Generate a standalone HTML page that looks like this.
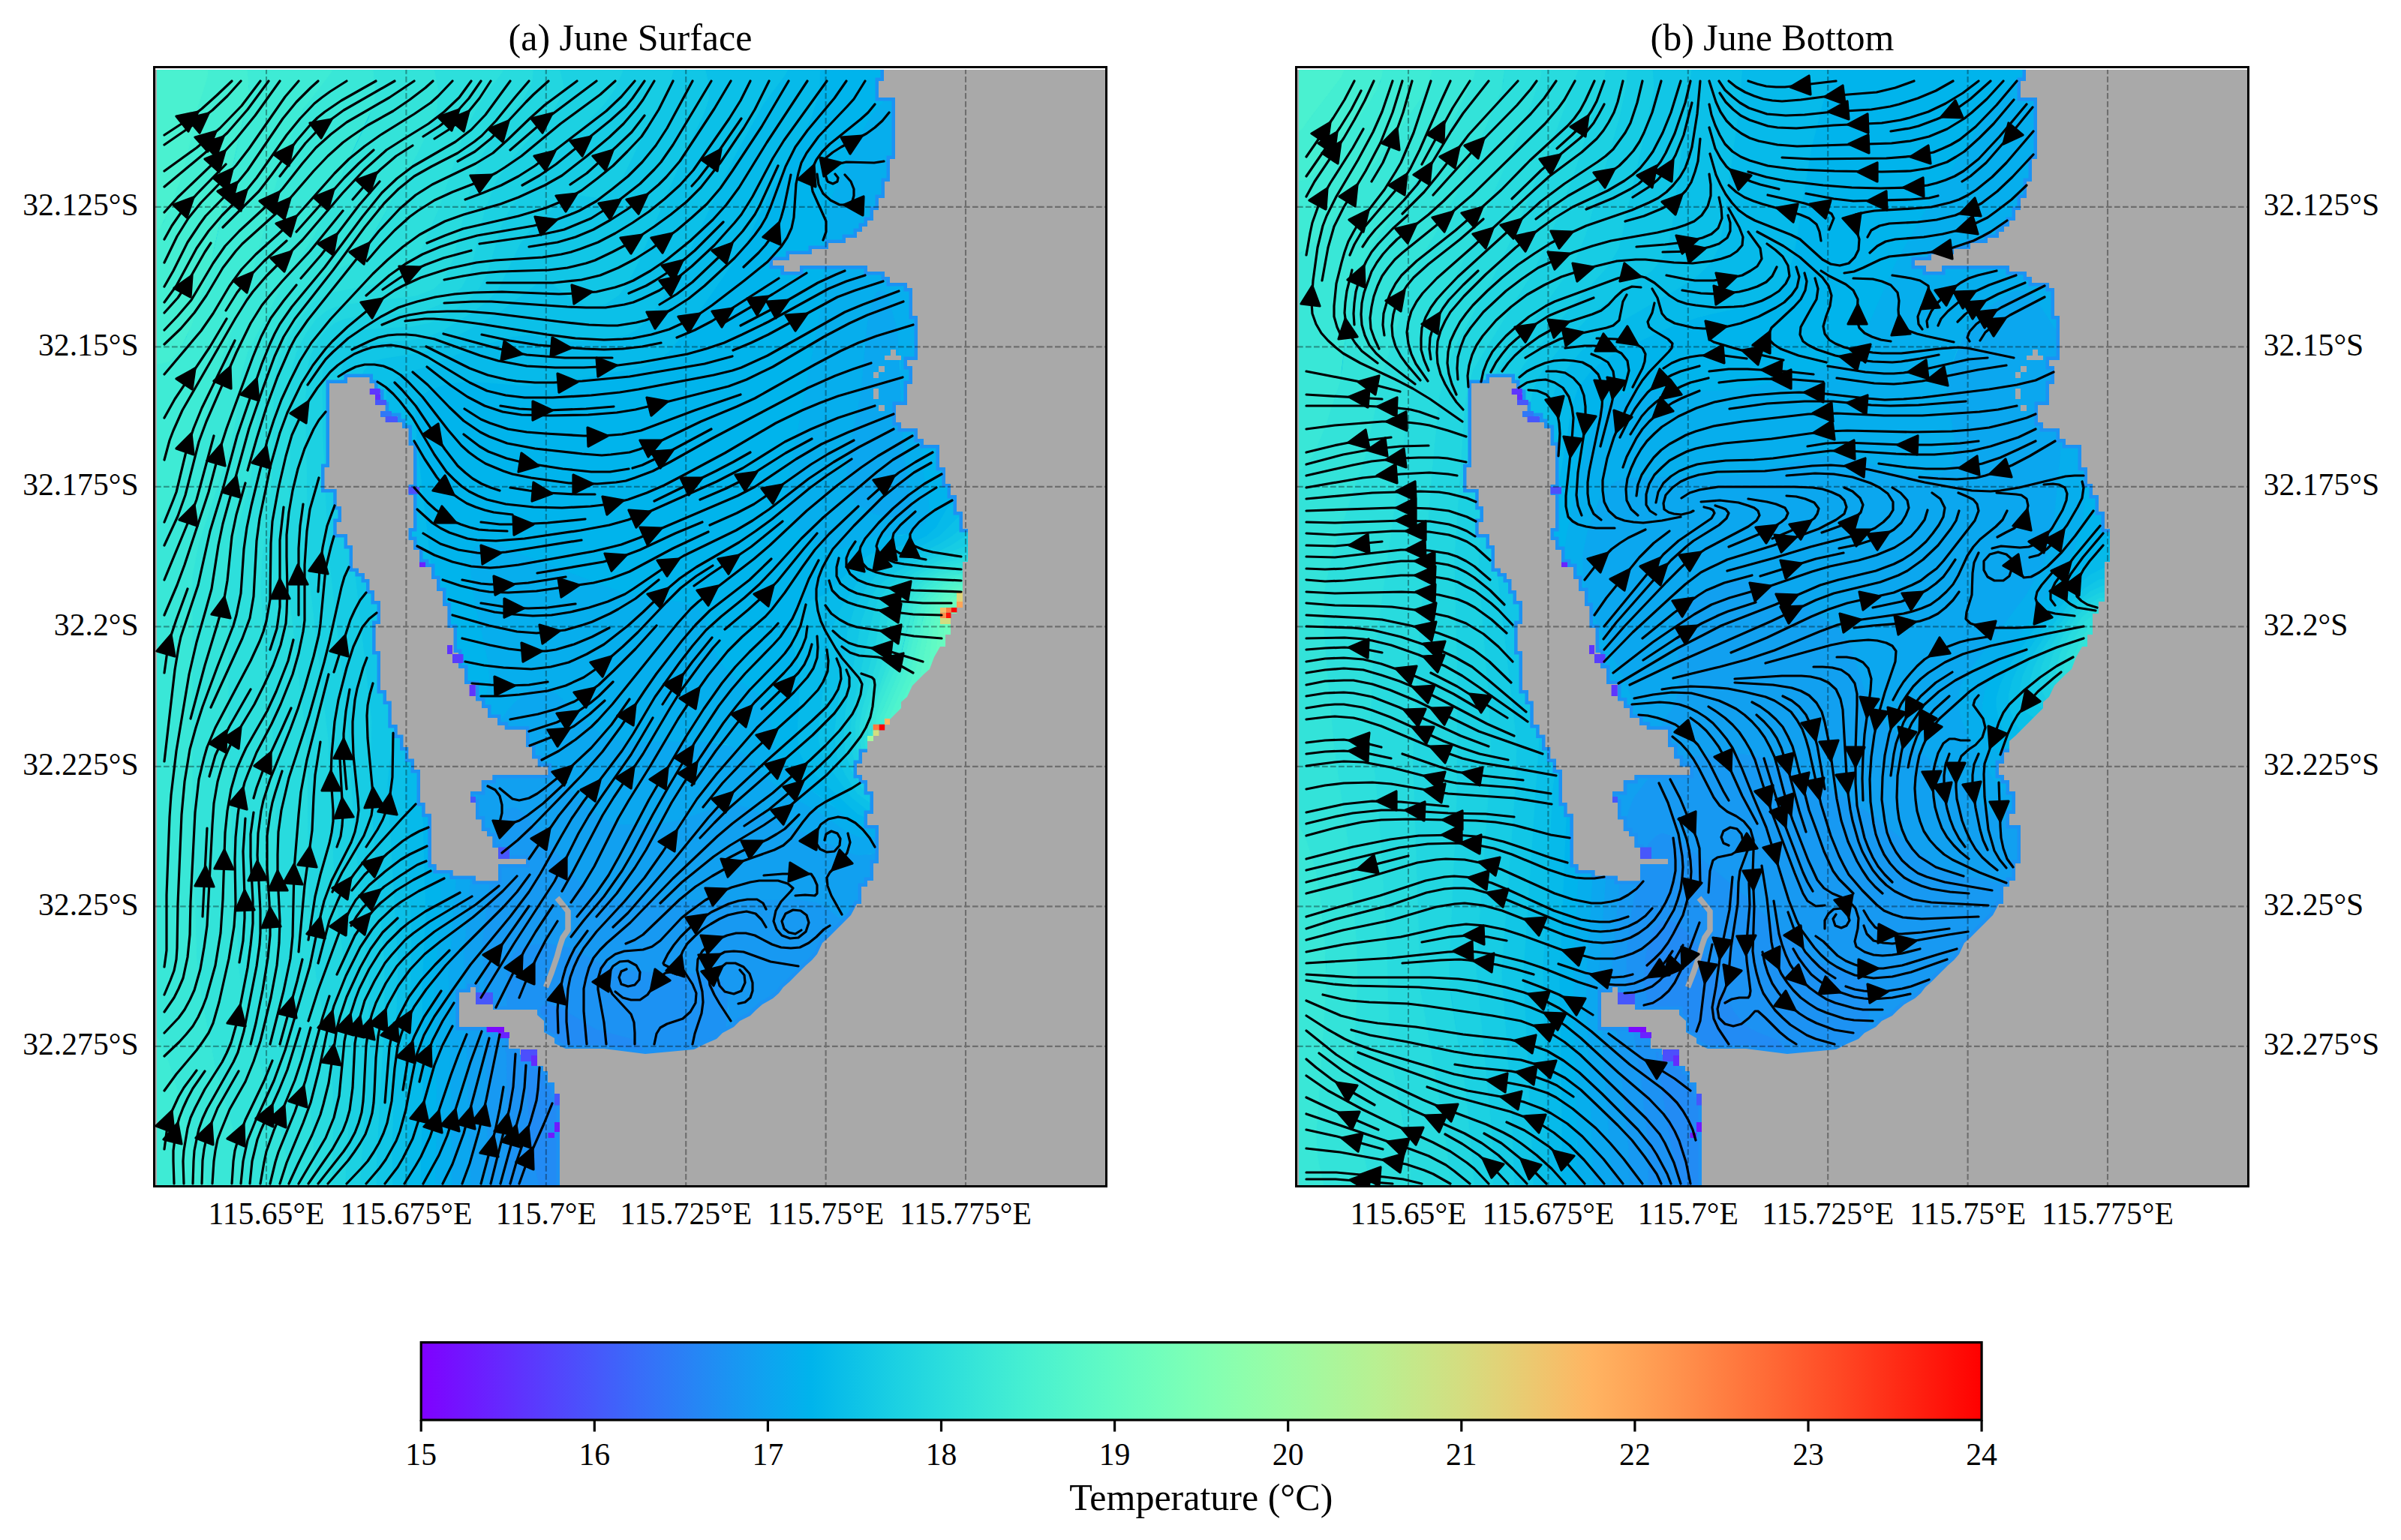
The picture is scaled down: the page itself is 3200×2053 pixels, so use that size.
<!DOCTYPE html><html><head><meta charset="utf-8"><style>html,body{margin:0;padding:0;background:#fff;}svg{display:block}</style></head><body>
<svg width="3200" height="2053" viewBox="0 0 3200 2053">
<defs>
<clipPath id="c0"><rect x="207" y="91" width="1266" height="1489"/></clipPath>
<clipPath id="c1"><rect x="1729" y="91" width="1266" height="1489"/></clipPath>
<linearGradient id="cb" x1="0" x2="1" y1="0" y2="0"><stop offset="0" stop-color="#8000ff"/><stop offset="0.0277778" stop-color="#7116ff"/><stop offset="0.0555556" stop-color="#632cfe"/><stop offset="0.0833333" stop-color="#5542fd"/><stop offset="0.111111" stop-color="#4757fb"/><stop offset="0.138889" stop-color="#396cf9"/><stop offset="0.166667" stop-color="#2b7ff6"/><stop offset="0.194444" stop-color="#1c92f3"/><stop offset="0.222222" stop-color="#0ea4f0"/><stop offset="0.25" stop-color="#00b4ec"/><stop offset="0.277778" stop-color="#0ec3e7"/><stop offset="0.305556" stop-color="#1cd1e2"/><stop offset="0.333333" stop-color="#2adddd"/><stop offset="0.361111" stop-color="#39e7d7"/><stop offset="0.388889" stop-color="#47f0d1"/><stop offset="0.416667" stop-color="#55f6ca"/><stop offset="0.444444" stop-color="#63fbc3"/><stop offset="0.472222" stop-color="#71febc"/><stop offset="0.5" stop-color="#80ffb4"/><stop offset="0.527778" stop-color="#8efeac"/><stop offset="0.555556" stop-color="#9cfba4"/><stop offset="0.583333" stop-color="#aaf69b"/><stop offset="0.611111" stop-color="#b8f092"/><stop offset="0.638889" stop-color="#c6e789"/><stop offset="0.666667" stop-color="#d4dd80"/><stop offset="0.694444" stop-color="#e3d176"/><stop offset="0.722222" stop-color="#f1c36c"/><stop offset="0.75" stop-color="#ffb462"/><stop offset="0.777778" stop-color="#ffa457"/><stop offset="0.805556" stop-color="#ff924d"/><stop offset="0.833333" stop-color="#ff7f42"/><stop offset="0.861111" stop-color="#ff6c37"/><stop offset="0.888889" stop-color="#ff572c"/><stop offset="0.916667" stop-color="#ff4221"/><stop offset="0.944444" stop-color="#ff2c16"/><stop offset="0.972222" stop-color="#ff160b"/><stop offset="1" stop-color="#ff0000"/></linearGradient>
</defs>
<rect width="3200" height="2053" fill="#fff"/>
<g clip-path="url(#c0)">
<rect x="207" y="91" width="1266" height="1489" fill="#14c9e5"/>
<path d="M819 1488L838 1489L867 1499L941 1537L987 1564L997 1573L1004 1585L951 1585L796 1585L792 1573L769 1543L766 1525L772 1513L783 1504L801 1493L819 1488Z" fill="#2883f6" stroke="#2883f6" stroke-width="1" fill-rule="evenodd"/>
<path d="M729 1338L747 1343L795 1372L843 1385L854 1393L860 1405L867 1429L875 1441L1011 1546L1027 1561L1035 1573L1038 1585L1004 1585L997 1573L987 1564L933 1533L849 1492L831 1488L813 1489L798 1495L778 1507L771 1514L766 1525L769 1543L792 1573L796 1585L719 1585L705 1519L702 1477L703 1429L705 1393L711 1361L717 1346L723 1340L729 1338Z" fill="#228bf4" stroke="#228bf4" stroke-width="1" fill-rule="evenodd"/>
<path d="M705 1260L729 1257L747 1259L765 1265L801 1284L819 1290L861 1295L939 1298L955 1303L963 1309L969 1321L970 1333L967 1387L971 1405L1017 1489L1061 1555L1068 1573L1070 1585L1038 1585L1031 1567L1017 1551L897 1457L870 1435L858 1399L849 1388L837 1383L795 1372L741 1340L729 1338L723 1340L715 1351L708 1375L702 1453L706 1525L719 1585L674 1585L676 1537L674 1405L676 1297L678 1285L683 1273L693 1264L705 1260Z" fill="#1c92f3" stroke="#1c92f3" stroke-width="1" fill-rule="evenodd"/>
<path d="M675 1078L687 1076L699 1084L718 1105L771 1174L789 1188L807 1195L825 1198L855 1200L1071 1199L1089 1203L1101 1209L1131 1234L1443 1546L1467 1567L1479 1572L1479 1585L1101 1585L1070 1585L1068 1573L1061 1555L1017 1489L974 1411L967 1387L971 1345L970 1327L963 1309L955 1303L939 1298L867 1296L825 1291L801 1284L759 1263L729 1257L711 1259L693 1264L683 1273L678 1285L675 1303L674 1363L676 1537L674 1585L650 1585L647 1333L642 1261L661 1105L667 1087L675 1078Z" fill="#1799f2" stroke="#1799f2" stroke-width="1" fill-rule="evenodd"/>
<path d="M1473 397L1479 397L1479 421L1383 421L1395 421L1401 415L1419 415L1425 409L1443 409L1449 403L1467 403L1473 397ZM1353 427L1365 427L1359 427L1353 433L1347 433L1353 427ZM681 1002L693 998L711 1003L732 1021L789 1080L807 1092L825 1098L855 1099L891 1096L915 1090L957 1075L981 1072L999 1077L1125 1134L1143 1140L1161 1139L1209 1121L1257 1119L1295 1123L1437 1151L1479 1156L1479 1572L1467 1567L1443 1546L1209 1312L1119 1223L1101 1209L1089 1203L1065 1199L843 1200L819 1197L795 1191L781 1183L768 1171L718 1105L699 1084L687 1076L675 1078L667 1087L661 1105L642 1261L647 1333L650 1585L627 1585L618 1273L628 1159L630 1087L635 1063L645 1041L663 1017L681 1002Z" fill="#11a0f0" stroke="#11a0f0" stroke-width="1" fill-rule="evenodd"/>
<path d="M1461 270L1479 268L1479 397L1473 397L1467 403L1449 403L1443 409L1425 409L1419 415L1401 415L1395 421L1377 421L1479 421L1479 498L1461 501L1443 507L1401 532L1369 559L1329 604L1311 621L1299 627L1292 625L1284 613L1255 499L1224 391L1221 373L1224 355L1230 343L1239 333L1263 319L1461 270ZM1353 427L1347 433L1353 433L1359 427L1353 427ZM1173 386L1179 388L1185 398L1191 416L1197 446L1204 601L1216 673L1212 685L1203 691L1179 689L1155 682L1142 673L1131 655L1127 631L1130 607L1146 529L1156 427L1164 397L1167 391L1173 386ZM705 918L717 915L735 920L753 934L795 973L819 986L843 989L939 988L975 995L993 1006L1024 1039L1041 1053L1095 1085L1125 1106L1143 1115L1161 1116L1209 1104L1257 1104L1437 1138L1479 1144L1479 1156L1467 1156L1295 1123L1239 1119L1203 1122L1167 1137L1143 1140L1125 1134L999 1077L981 1072L957 1075L909 1092L885 1097L831 1099L813 1095L801 1089L777 1069L723 1012L711 1003L699 998L687 999L675 1006L657 1024L643 1045L635 1063L631 1081L627 1165L618 1267L627 1585L602 1585L597 1309L607 1177L606 1087L608 1063L619 1033L645 990L681 941L705 918Z" fill="#0ba7ef" stroke="#0ba7ef" stroke-width="1" fill-rule="evenodd"/>
<path d="M1239 89L1248 85L1479 85L1479 268L1437 275L1263 319L1245 328L1235 337L1227 349L1222 361L1221 373L1224 391L1255 499L1280 601L1287 619L1293 625L1305 625L1323 610L1375 553L1413 524L1437 510L1461 501L1479 498L1479 511L1461 513L1443 520L1419 534L1395 552L1371 574L1317 635L1305 645L1293 650L1281 647L1272 637L1251 581L1245 569L1238 565L1233 571L1232 577L1229 607L1231 631L1238 667L1239 685L1234 697L1229 703L1215 711L1161 717L1119 733L1107 734L1089 727L1073 715L1059 700L1050 685L1047 667L1048 649L1093 415L1101 295L1107 265L1143 184L1161 154L1179 133L1197 117L1239 89ZM1167 391L1161 406L1155 433L1147 523L1130 607L1128 637L1131 655L1142 673L1161 684L1185 691L1197 691L1209 688L1215 680L1216 673L1204 601L1200 481L1196 439L1185 398L1179 388L1173 386L1167 391ZM639 724L651 723L669 728L831 790L861 797L909 802L927 807L940 823L952 865L960 883L975 899L1010 925L1020 937L1026 955L1034 997L1045 1021L1065 1042L1143 1099L1161 1102L1209 1093L1251 1094L1437 1131L1479 1137L1479 1144L1461 1142L1281 1107L1251 1103L1209 1104L1161 1116L1143 1115L1125 1106L1095 1085L1041 1053L1024 1039L993 1006L981 998L969 992L951 989L891 988L837 989L813 984L795 973L741 924L723 915L711 916L693 928L675 948L645 990L619 1033L611 1051L607 1075L607 1177L598 1297L602 1585L579 1585L582 1495L579 1315L587 1189L584 1069L586 1051L592 1033L639 949L651 913L650 883L633 805L627 763L628 739L633 728L639 724Z" fill="#06aeed" stroke="#06aeed" stroke-width="1" fill-rule="evenodd"/>
<path d="M1095 85L1248 85L1221 100L1197 117L1179 133L1161 154L1143 184L1114 247L1105 271L1100 301L1097 379L1093 415L1047 655L1049 679L1053 691L1062 703L1089 727L1107 734L1119 733L1161 717L1203 714L1219 709L1233 698L1239 685L1238 667L1231 631L1229 607L1233 571L1239 564L1245 569L1251 581L1272 637L1281 647L1293 650L1305 645L1317 635L1377 568L1413 538L1443 520L1461 513L1479 511L1479 520L1461 523L1443 531L1401 559L1377 581L1311 654L1293 666L1269 672L1263 677L1248 703L1235 715L1215 724L1173 734L1155 742L1143 751L1101 792L1070 805L1061 811L1055 823L1054 835L1056 853L1067 901L1063 979L1066 1003L1076 1021L1087 1033L1137 1080L1155 1090L1173 1091L1215 1084L1251 1087L1341 1108L1443 1127L1479 1131L1479 1137L1437 1131L1251 1094L1215 1093L1167 1102L1149 1101L1133 1093L1107 1071L1059 1037L1045 1021L1036 1003L1026 955L1020 937L1010 925L975 899L960 883L952 865L940 823L927 807L909 802L861 797L831 790L657 724L645 723L633 728L627 745L627 769L633 805L650 883L652 907L648 925L641 943L597 1021L589 1039L585 1057L584 1081L587 1201L579 1321L582 1495L579 1585L560 1585L563 1459L562 1315L567 1219L562 1057L564 1039L570 1021L606 949L611 919L608 895L585 805L574 751L559 625L553 553L555 538L561 528L577 517L597 511L627 508L699 514L729 513L849 491L867 485L885 475L911 445L982 343L997 319L1022 265L1065 190L1081 157L1091 127L1093 85L1095 85ZM1275 85L1279 85L1275 85L1275 85Z" fill="#00b4ec" stroke="#00b4ec" stroke-width="1" fill-rule="evenodd"/>
<path d="M1053 85L1093 85L1092 121L1081 157L1065 190L1022 265L990 331L911 445L891 469L873 482L855 489L729 513L699 514L627 508L597 511L567 522L560 529L555 538L553 553L554 577L573 745L583 799L608 895L611 919L606 949L570 1021L564 1039L562 1057L567 1219L562 1315L563 1459L560 1567L560 1585L542 1585L548 1249L539 1057L544 1021L566 967L571 937L568 913L550 835L543 791L514 553L513 529L516 517L524 505L535 499L579 485L627 465L687 448L705 446L753 454L795 454L831 448L855 434L876 409L909 355L981 204L1017 139L1047 99L1053 85ZM1467 522L1479 520L1479 529L1467 531L1449 538L1407 565L1383 588L1317 662L1276 691L1252 715L1227 729L1170 751L1148 769L1121 811L1108 841L1091 973L1093 997L1104 1021L1135 1063L1155 1079L1173 1082L1215 1077L1245 1080L1335 1102L1449 1124L1479 1127L1479 1131L1455 1129L1341 1108L1251 1087L1215 1084L1167 1091L1155 1090L1143 1085L1081 1027L1072 1015L1066 1003L1063 979L1067 901L1056 853L1054 835L1057 817L1065 808L1101 792L1143 751L1160 739L1215 724L1235 715L1248 703L1263 677L1269 672L1293 666L1311 654L1377 581L1401 559L1437 534L1467 522Z" fill="#06baea" stroke="#06baea" stroke-width="1" fill-rule="evenodd"/>
<path d="M939 85L1053 85L1047 99L1017 139L981 204L909 355L880 403L861 428L849 439L837 446L801 454L759 455L705 446L681 449L627 465L579 485L535 499L519 511L514 523L515 559L543 793L552 847L569 919L571 937L566 967L544 1021L539 1051L548 1249L542 1537L542 1585L523 1585L522 1555L530 1285L516 1045L519 1015L531 967L531 949L516 853L485 589L479 529L482 499L490 487L501 480L561 470L591 458L663 418L717 377L729 376L735 378L765 401L783 408L801 407L821 397L835 379L849 354L904 223L941 145L945 121L939 85ZM1455 535L1479 529L1479 539L1466 541L1449 548L1407 577L1311 681L1260 721L1179 760L1167 769L1156 781L1139 811L1130 841L1114 955L1113 985L1116 1009L1127 1033L1143 1058L1161 1071L1173 1073L1209 1069L1227 1070L1335 1099L1443 1119L1479 1123L1479 1127L1473 1127L1431 1121L1335 1102L1263 1083L1233 1078L1209 1077L1173 1082L1155 1079L1135 1063L1104 1021L1095 1003L1091 985L1092 961L1108 841L1121 811L1148 769L1170 751L1227 729L1252 715L1276 691L1317 662L1400 571L1431 548L1455 535Z" fill="#0bc0e8" stroke="#0bc0e8" stroke-width="1" fill-rule="evenodd"/>
<path d="M903 85L938 85L945 115L944 133L938 151L903 225L851 349L837 376L825 393L807 405L795 408L783 408L765 401L735 378L729 376L717 377L663 418L585 461L561 470L513 477L499 481L485 493L480 505L480 535L487 607L516 853L531 949L531 967L519 1015L516 1045L530 1285L522 1537L523 1585L501 1585L511 1363L512 1291L493 1057L495 961L463 685L456 601L452 517L455 487L465 470L477 462L495 457L549 453L567 450L585 443L615 425L645 405L660 391L671 373L687 336L697 319L711 301L735 278L753 266L765 261L777 261L801 264L813 258L825 244L837 222L865 163L892 115L898 85L903 85ZM1467 541L1479 539L1479 552L1454 559L1419 583L1395 606L1335 675L1311 698L1279 721L1194 763L1177 775L1167 786L1156 805L1147 835L1127 949L1125 979L1128 1009L1137 1033L1149 1051L1166 1063L1179 1065L1203 1062L1221 1063L1335 1095L1443 1116L1479 1120L1479 1123L1455 1121L1347 1101L1227 1070L1209 1069L1173 1073L1161 1071L1143 1058L1127 1033L1116 1009L1112 979L1130 841L1139 811L1156 781L1167 769L1179 760L1250 727L1269 715L1323 670L1407 577L1440 553L1467 541Z" fill="#11c6e6" stroke="#11c6e6" stroke-width="1" fill-rule="evenodd"/>
<path d="M831 86L898 85L898 91L891 118L868 157L831 234L819 252L807 262L801 264L771 260L759 263L729 284L706 307L693 325L664 385L651 400L631 415L591 440L567 450L549 453L495 457L477 462L461 475L454 493L452 535L459 642L495 961L493 1057L512 1285L512 1357L502 1537L501 1585L479 1585L490 1411L491 1315L471 1099L464 973L436 727L429 553L429 511L431 487L441 463L452 451L461 445L483 439L549 435L573 430L603 415L633 391L648 367L666 307L681 276L723 225L805 139L824 109L831 86ZM1473 552L1479 552L1479 667L1461 669L1413 682L1251 742L1208 763L1191 775L1179 787L1169 805L1163 823L1136 949L1133 979L1136 1003L1143 1027L1155 1045L1167 1054L1179 1056L1203 1055L1221 1057L1329 1091L1443 1112L1479 1117L1479 1120L1473 1120L1335 1095L1221 1063L1173 1064L1161 1061L1149 1051L1135 1027L1127 1003L1125 979L1127 949L1148 829L1159 799L1171 781L1194 763L1268 727L1305 703L1335 675L1413 588L1444 565L1473 552Z" fill="#17cce4" stroke="#17cce4" stroke-width="1" fill-rule="evenodd"/>
<path d="M747 85L831 85L829 97L818 121L805 139L723 225L681 276L668 301L648 367L638 385L627 397L609 411L573 430L549 435L483 439L459 446L441 463L435 475L430 493L429 517L430 583L437 733L464 973L471 1099L491 1309L491 1387L483 1525L479 1585L460 1585L467 1453L468 1375L445 1171L437 985L410 757L407 529L409 493L413 475L423 454L435 439L447 430L459 425L477 421L543 417L567 414L592 403L613 385L627 361L645 283L661 241L678 217L730 157L747 133L751 115L744 85L747 85ZM1449 672L1479 667L1479 738L1335 734L1299 735L1269 742L1239 753L1215 766L1196 781L1182 799L1175 817L1167 859L1144 943L1140 979L1143 1003L1148 1021L1161 1039L1170 1045L1215 1050L1329 1088L1455 1111L1479 1113L1479 1117L1449 1113L1329 1091L1221 1057L1203 1055L1179 1056L1167 1054L1155 1045L1143 1027L1136 1003L1133 979L1136 949L1163 823L1171 799L1185 781L1208 763L1245 744L1413 682L1449 672Z" fill="#1cd1e2" stroke="#1cd1e2" stroke-width="1" fill-rule="evenodd"/>
<path d="M717 85L744 85L751 115L749 127L735 151L681 213L661 241L645 283L627 361L615 383L592 403L567 414L543 417L477 421L459 425L447 430L435 439L423 454L413 475L409 493L407 529L410 757L437 985L445 1171L468 1375L467 1453L460 1573L460 1585L442 1585L444 1477L442 1429L437 1387L421 1303L416 1261L411 1183L409 997L383 775L382 739L386 643L386 523L388 493L395 469L407 445L420 427L435 414L447 409L465 405L555 394L578 385L591 373L603 347L626 253L639 212L657 181L700 127L709 109L711 85L717 85ZM1281 739L1323 734L1479 738L1479 746L1311 742L1269 748L1245 756L1221 769L1200 787L1189 805L1176 859L1148 955L1146 985L1153 1015L1161 1028L1173 1037L1215 1044L1315 1081L1437 1105L1479 1110L1479 1113L1455 1111L1341 1091L1299 1079L1221 1051L1173 1046L1161 1039L1151 1027L1144 1009L1141 991L1140 967L1144 943L1167 859L1175 817L1182 799L1196 781L1220 763L1251 748L1281 739Z" fill="#22d6e0" stroke="#22d6e0" stroke-width="1" fill-rule="evenodd"/>
<path d="M675 85L711 85L709 109L699 129L657 181L639 212L626 253L603 347L591 373L578 385L555 394L465 405L447 409L435 414L420 427L407 445L395 469L388 493L386 523L386 643L382 769L409 997L411 1183L416 1261L421 1303L437 1387L442 1429L444 1477L442 1585L421 1585L417 1507L412 1465L378 1327L371 1273L366 1009L352 865L347 781L349 745L362 643L366 499L372 475L383 451L402 421L417 403L441 390L519 372L539 361L551 349L562 331L579 293L622 169L642 133L669 97L675 85ZM1287 744L1323 742L1479 746L1479 752L1311 748L1269 753L1245 761L1227 771L1209 787L1197 805L1184 859L1153 955L1152 985L1157 1009L1165 1021L1173 1028L1215 1039L1317 1079L1437 1102L1479 1108L1479 1110L1455 1108L1335 1086L1299 1076L1215 1044L1173 1037L1161 1028L1155 1019L1149 1003L1146 985L1146 967L1150 943L1176 859L1185 817L1192 799L1206 781L1230 763L1257 751L1287 744Z" fill="#28dbde" stroke="#28dbde" stroke-width="1" fill-rule="evenodd"/>
<path d="M579 85L674 85L669 97L645 128L621 170L585 277L562 331L546 355L530 367L501 378L441 390L417 403L399 425L380 457L370 481L365 505L362 643L349 745L347 781L352 865L366 1009L370 1267L378 1327L411 1460L416 1501L419 1549L421 1585L387 1585L380 1531L337 1393L320 1309L316 1261L308 1075L303 889L304 763L308 739L334 637L340 589L344 505L354 469L383 415L405 385L423 372L470 349L483 337L495 319L555 207L578 157L585 127L577 85L579 85ZM1281 750L1317 748L1479 752L1479 757L1311 753L1275 756L1251 763L1233 773L1217 787L1205 805L1190 865L1159 949L1156 979L1161 1003L1169 1015L1179 1023L1215 1034L1317 1076L1437 1099L1479 1105L1479 1108L1455 1105L1323 1081L1289 1069L1215 1039L1179 1031L1167 1024L1160 1015L1155 1002L1152 985L1153 955L1184 859L1197 805L1209 787L1230 769L1251 758L1281 750Z" fill="#2ddfdc" stroke="#2ddfdc" stroke-width="1" fill-rule="evenodd"/>
<path d="M501 85L577 85L584 121L582 145L573 169L555 207L487 331L470 349L423 372L405 385L383 415L354 469L344 505L340 589L334 637L308 739L304 769L304 943L309 1117L318 1291L324 1333L336 1387L375 1512L383 1549L387 1585L325 1585L322 1543L291 1442L266 1315L260 1261L256 1129L256 769L264 727L307 595L314 559L321 499L328 475L341 445L373 385L419 313L492 157L500 127L496 85L501 85ZM1275 756L1311 753L1479 757L1479 761L1311 758L1275 760L1257 766L1239 775L1224 787L1212 805L1197 865L1165 949L1161 973L1166 997L1173 1009L1185 1018L1311 1071L1347 1081L1449 1099L1479 1102L1479 1105L1449 1102L1323 1078L1287 1065L1215 1034L1179 1023L1164 1009L1157 985L1158 955L1190 865L1205 805L1217 787L1233 773L1251 763L1275 756Z" fill="#33e3d9" stroke="#33e3d9" stroke-width="1" fill-rule="evenodd"/>
<path d="M447 85L496 85L500 121L498 139L419 313L375 382L330 469L321 499L314 559L307 595L264 727L256 769L256 1099L262 1279L268 1327L288 1429L323 1549L325 1585L315 1585L277 1585L273 1570L254 1525L236 1453L225 1417L213 1389L201 1373L201 704L213 693L225 674L243 635L267 573L296 475L336 367L369 240L390 175L408 139L436 103L445 85L447 85ZM1269 762L1305 758L1479 761L1479 764L1311 761L1281 763L1263 768L1247 775L1231 787L1222 799L1214 817L1199 877L1170 949L1167 967L1168 985L1173 998L1185 1010L1299 1064L1347 1078L1449 1095L1479 1099L1479 1102L1452 1099L1323 1075L1289 1063L1215 1029L1185 1018L1173 1009L1168 1003L1162 979L1163 955L1168 937L1197 865L1212 805L1219 793L1233 779L1251 768L1269 762Z" fill="#39e7d7" stroke="#39e7d7" stroke-width="1" fill-rule="evenodd"/>
<path d="M333 85L445 85L441 97L404 145L387 183L369 240L334 373L296 475L267 573L242 637L219 685L207 700L201 704L201 486L213 485L225 482L237 471L249 449L262 415L286 331L328 145L332 115L328 85L333 85ZM1287 763L1479 764L1479 767L1317 765L1281 767L1263 772L1246 781L1232 793L1224 805L1218 823L1206 877L1175 949L1172 967L1174 985L1181 997L1196 1009L1264 1045L1322 1069L1449 1092L1479 1095L1479 1099L1449 1095L1347 1078L1317 1070L1275 1054L1191 1013L1179 1005L1172 997L1167 979L1168 955L1174 937L1202 871L1218 805L1231 787L1245 776L1263 768L1287 763ZM204 1375L213 1389L225 1417L236 1453L254 1525L274 1573L277 1585L267 1585L201 1585L201 1373L204 1375Z" fill="#3eebd5" stroke="#3eebd5" stroke-width="1" fill-rule="evenodd"/>
<path d="M279 85L328 85L331 109L331 127L278 361L255 434L237 471L225 482L213 485L201 486L201 313L213 304L219 295L237 251L279 85ZM1275 768L1311 765L1479 767L1479 770L1317 768L1287 770L1269 774L1254 781L1239 793L1230 805L1224 823L1210 883L1181 949L1178 967L1179 979L1190 997L1216 1015L1259 1039L1311 1062L1347 1072L1479 1092L1479 1095L1454 1093L1347 1075L1322 1069L1290 1057L1240 1033L1191 1006L1179 995L1173 979L1173 955L1206 877L1222 811L1228 799L1239 786L1256 775L1275 768Z" fill="#44eed2" stroke="#44eed2" stroke-width="1" fill-rule="evenodd"/>
<path d="M207 85L278 85L276 103L263 145L244 229L227 277L213 304L201 313L201 85L207 85ZM1299 769L1479 770L1479 773L1323 771L1287 773L1269 778L1257 784L1245 793L1236 805L1230 823L1215 889L1186 955L1185 967L1187 979L1200 997L1233 1021L1291 1051L1329 1065L1455 1086L1479 1088L1479 1092L1449 1089L1347 1072L1313 1063L1271 1045L1226 1021L1191 998L1182 985L1178 973L1179 955L1210 883L1224 823L1230 805L1239 793L1257 779L1275 772L1299 769Z" fill="#4af1d0" stroke="#4af1d0" stroke-width="1" fill-rule="evenodd"/>
<path d="M1281 774L1317 771L1479 773L1479 776L1293 776L1275 780L1263 785L1252 793L1242 805L1235 823L1220 895L1195 955L1194 973L1204 991L1231 1015L1274 1039L1317 1058L1347 1065L1479 1084L1479 1088L1461 1087L1347 1069L1322 1063L1279 1045L1233 1021L1207 1003L1190 985L1186 973L1186 955L1215 889L1234 811L1240 799L1252 787L1263 780L1281 774Z" fill="#4ff4cd" stroke="#4ff4cd" stroke-width="1" fill-rule="evenodd"/>
<path d="M1305 775L1479 776L1479 779L1329 778L1293 779L1275 784L1263 790L1253 799L1245 811L1240 829L1225 907L1205 955L1204 967L1206 979L1213 991L1223 1003L1248 1021L1309 1051L1341 1060L1479 1079L1479 1084L1455 1082L1341 1064L1311 1056L1262 1033L1223 1009L1200 985L1194 967L1196 949L1220 895L1235 823L1242 805L1252 793L1269 782L1287 777L1305 775Z" fill="#55f6ca" stroke="#55f6ca" stroke-width="1" fill-rule="evenodd"/>
<path d="M1287 780L1323 778L1479 779L1479 782L1299 782L1275 788L1263 796L1255 805L1245 831L1235 913L1229 931L1216 961L1216 979L1225 997L1239 1010L1280 1033L1317 1049L1348 1057L1401 1062L1479 1073L1479 1079L1467 1078L1327 1057L1295 1045L1248 1021L1230 1009L1213 991L1204 973L1204 961L1225 907L1243 817L1248 805L1259 793L1269 786L1287 780Z" fill="#5bf8c8" stroke="#5bf8c8" stroke-width="1" fill-rule="evenodd"/>
<path d="M1317 781L1479 782L1479 785L1341 784L1299 786L1274 793L1266 799L1257 811L1252 829L1248 859L1250 925L1246 937L1227 967L1227 985L1239 1003L1267 1021L1321 1045L1356 1051L1413 1052L1479 1064L1479 1073L1473 1072L1401 1062L1348 1057L1322 1051L1280 1033L1238 1009L1221 991L1215 973L1218 955L1229 931L1235 913L1244 835L1251 811L1259 799L1275 788L1293 783L1317 781Z" fill="#60fac5" stroke="#60fac5" stroke-width="1" fill-rule="evenodd"/>
<path d="M1293 786L1335 784L1479 785L1479 788L1347 787L1299 789L1285 793L1274 799L1268 805L1261 817L1257 841L1257 871L1262 895L1269 910L1281 925L1299 941L1389 1004L1445 1039L1461 1045L1479 1049L1479 1064L1413 1052L1347 1050L1317 1044L1267 1021L1239 1003L1227 985L1227 967L1246 937L1250 925L1248 865L1251 835L1255 817L1261 805L1269 797L1281 790L1293 786ZM1245 967L1239 976L1238 985L1244 997L1251 1003L1270 1015L1311 1033L1341 1038L1352 1033L1353 1027L1350 1021L1305 984L1287 971L1269 962L1257 962L1245 967Z" fill="#66fcc2" stroke="#66fcc2" stroke-width="1" fill-rule="evenodd"/>
<path d="M1287 792L1305 789L1329 787L1479 788L1479 791L1353 791L1305 793L1284 799L1271 811L1266 829L1265 853L1269 872L1278 889L1299 909L1383 967L1449 1012L1467 1020L1479 1022L1479 1049L1461 1045L1443 1038L1401 1013L1299 941L1281 925L1268 907L1260 889L1257 874L1258 829L1261 817L1268 805L1275 798L1287 792ZM1251 964L1263 961L1281 967L1337 1009L1353 1027L1352 1033L1335 1038L1311 1033L1296 1027L1251 1003L1240 991L1238 979L1245 967L1251 964Z" fill="#6cfdbf" stroke="#6cfdbf" stroke-width="1" fill-rule="evenodd"/>
<path d="M1305 793L1353 791L1479 791L1479 795L1317 796L1293 801L1280 811L1275 823L1275 840L1280 859L1287 870L1305 886L1390 943L1455 985L1479 993L1479 1022L1455 1015L1305 913L1287 899L1275 885L1269 871L1265 853L1265 835L1268 817L1275 806L1281 801L1305 793Z" fill="#71febc" stroke="#71febc" stroke-width="1" fill-rule="evenodd"/>
<path d="M1299 799L1347 795L1479 795L1479 799L1329 800L1305 804L1292 811L1288 817L1286 829L1291 841L1299 851L1323 867L1401 903L1455 927L1479 933L1479 993L1473 992L1455 985L1437 974L1293 876L1280 859L1275 841L1274 829L1280 811L1287 804L1299 799Z" fill="#77ffb9" stroke="#77ffb9" stroke-width="1" fill-rule="evenodd"/>
<path d="M1347 799L1479 799L1479 804L1344 805L1317 810L1306 817L1304 823L1306 829L1323 842L1359 857L1424 877L1455 885L1479 888L1479 933L1473 932L1443 922L1377 892L1317 863L1299 851L1291 841L1286 829L1288 817L1292 811L1302 805L1311 803L1347 799Z" fill="#7dffb6" stroke="#7dffb6" stroke-width="1" fill-rule="evenodd"/>
<path d="M1347 805L1479 804L1479 809L1377 811L1343 817L1338 823L1342 829L1352 835L1413 857L1455 868L1479 872L1479 888L1455 885L1359 857L1329 845L1312 835L1305 826L1306 817L1317 810L1347 805Z" fill="#82ffb3" stroke="#82ffb3" stroke-width="1" fill-rule="evenodd"/>
<path d="M1377 811L1479 809L1479 819L1413 822L1406 823L1400 829L1422 841L1461 853L1479 855L1479 872L1461 870L1401 853L1352 835L1342 829L1338 823L1343 817L1377 811Z" fill="#88ffb0" stroke="#88ffb0" stroke-width="1" fill-rule="evenodd"/>
<path d="M1407 823L1479 819L1479 855L1473 854L1440 847L1408 835L1400 829L1407 823Z" fill="#8efeac" stroke="#8efeac" stroke-width="1" fill-rule="evenodd"/>
<g fill="none" stroke="#1c92f3" stroke-width="9" stroke-linejoin="miter">
<polygon points="463,503 492.5,503 492.5,511 499,511 499,524 507,524 507,540 513.6,540 513.6,555 530,555 530,563 536,563 536,571 544.5,571 544.5,594 551,594 551,646 544.5,646 544.5,660 551,660 551,704 544.5,704 544.5,720 551,720 551,733 559,733 559,750 567,750 567,756 575,756 575,772 582,772 582,788 590,788 590,808 596.4,808 596.4,837 604.5,837 604.5,870 611,870 611,891 619,891 619,912 634,912 634,934.5 642,934.5 642,944 650,944 650,957 663,957 663,967 672.7,967 672.7,972.7 701,972.7 701,996 709,996 709,1011.6 716.7,1011.6 716.7,1022.3 730.3,1022.3 730.3,1033 656.3,1033 656.3,1040 641.7,1040 641.7,1055 627,1055 627,1070 634,1070 634,1092.6 641.7,1092.6 641.7,1108 649,1108 649,1115 656.3,1115 656.3,1130 664,1130 664,1145 701,1145 701,1152 664,1152 664,1174.3 634,1174.3 634,1167.5 603.7,1167.5 603.7,1160 581.7,1160 581.7,1152 574.9,1152 574.9,1084.7 566.7,1084.7 566.7,1070 560,1070 560,1026 552,1026 552,1011.6 544.3,1011.6 544.3,996 537.5,996 537.5,979.5 529.7,979.5 529.7,966 521.8,966 521.8,934.5 515,934.5 515,920 507,920 507,868 500.6,868 500.6,832 507,832 507,801 499,801 499,787 492.5,787 492.5,772 486,772 486,764 478,764 478,757.6 470,757.6 470,727 463,727 463,712 448.7,712 448.7,696 455,696 455,675 448.7,675 448.7,652 432.5,652 432.5,623 439,623 439,511 463,511"/>
<polyline points="1178,88 1178,108 1171,108 1171,130 1193,130 1193,212 1186,212 1186,242 1179,242 1179,264 1171,264 1171,280 1164,280 1164,294 1156,294 1156,302 1149,302 1149,309 1142,309 1142,317 1127,317 1127,324 1104,324 1104,332 1082,332 1082,339 1052,339 1052,347 1030,347 1030,354 1045,354 1045,362 1066,362 1066,354 1156,354 1156,362 1179,362 1179,369 1186,369 1186,377 1209,377 1209,384 1216,384 1216,421 1223,421 1223,480 1209,480 1209,488 1216,488 1216,512 1209,512 1209,540 1194,540 1194,563 1201,563 1201,571 1223,571 1223,585 1231,585 1231,593 1252,593 1252,623 1260,623 1260,645 1267,645 1267,660 1275,660 1275,682 1283,682 1283,705 1290,705"/>
<polyline points="1156,1003 1149,1003 1149,1018 1142,1018 1142,1033 1149,1033 1149,1040 1156,1040 1156,1055 1164,1055 1164,1085 1156,1085 1156,1100 1171,1100 1171,1151 1164,1151 1164,1174 1156,1174 1156,1182 1148,1182 1148,1205 1142,1205 1134,1220 1126,1228 1120,1234 1112,1242 1104,1250 1096,1257 1089,1272 1082,1280 1074,1287 1067,1294 1059,1302 1052,1309 1044,1316 1038,1324 1030,1331 1016,1339 1008,1346 1000,1354 986,1361 978,1369 963,1377 955,1385 941,1391 925,1399 860,1405 805,1398 754,1398 739,1391 739,1384 725,1376 725,1361 716,1353 716,1346 657,1346 657,1339 634,1339 634,1316 627,1316 627,1323 612,1323 612,1369 672,1369 672,1376 678,1376 678,1398 693,1398 693,1406 715,1406 715,1421 724,1421 724,1428 730,1428 730,1443 739,1443 739,1458 746,1458 746,1583"/>
</g>
<g fill="#a9a9a9">
<polygon points="463,503 492.5,503 492.5,511 499,511 499,524 507,524 507,540 513.6,540 513.6,555 530,555 530,563 536,563 536,571 544.5,571 544.5,594 551,594 551,646 544.5,646 544.5,660 551,660 551,704 544.5,704 544.5,720 551,720 551,733 559,733 559,750 567,750 567,756 575,756 575,772 582,772 582,788 590,788 590,808 596.4,808 596.4,837 604.5,837 604.5,870 611,870 611,891 619,891 619,912 634,912 634,934.5 642,934.5 642,944 650,944 650,957 663,957 663,967 672.7,967 672.7,972.7 701,972.7 701,996 709,996 709,1011.6 716.7,1011.6 716.7,1022.3 730.3,1022.3 730.3,1033 656.3,1033 656.3,1040 641.7,1040 641.7,1055 627,1055 627,1070 634,1070 634,1092.6 641.7,1092.6 641.7,1108 649,1108 649,1115 656.3,1115 656.3,1130 664,1130 664,1145 701,1145 701,1152 664,1152 664,1174.3 634,1174.3 634,1167.5 603.7,1167.5 603.7,1160 581.7,1160 581.7,1152 574.9,1152 574.9,1084.7 566.7,1084.7 566.7,1070 560,1070 560,1026 552,1026 552,1011.6 544.3,1011.6 544.3,996 537.5,996 537.5,979.5 529.7,979.5 529.7,966 521.8,966 521.8,934.5 515,934.5 515,920 507,920 507,868 500.6,868 500.6,832 507,832 507,801 499,801 499,787 492.5,787 492.5,772 486,772 486,764 478,764 478,757.6 470,757.6 470,727 463,727 463,712 448.7,712 448.7,696 455,696 455,675 448.7,675 448.7,652 432.5,652 432.5,623 439,623 439,511 463,511"/>
<polygon points="1178,88 1178,108 1171,108 1171,130 1193,130 1193,212 1186,212 1186,242 1179,242 1179,264 1171,264 1171,280 1164,280 1164,294 1156,294 1156,302 1149,302 1149,309 1142,309 1142,317 1127,317 1127,324 1104,324 1104,332 1082,332 1082,339 1052,339 1052,347 1030,347 1030,354 1045,354 1045,362 1066,362 1066,354 1156,354 1156,362 1179,362 1179,369 1186,369 1186,377 1209,377 1209,384 1216,384 1216,421 1223,421 1223,480 1209,480 1209,488 1216,488 1216,512 1209,512 1209,540 1194,540 1194,563 1201,563 1201,571 1223,571 1223,585 1231,585 1231,593 1252,593 1252,623 1260,623 1260,645 1267,645 1267,660 1275,660 1275,682 1283,682 1283,705 1290,705 1290,749 1283,749 1283,802 1275,802 1275,818 1267,818 1267,846 1260,846 1260,862 1253,862 1245,876 1239,892 1231,899 1223,907 1216,914 1209,929 1201,936 1201,944 1194,951 1186,959 1179,966 1171,974 1164,981 1156,988 1156,1003 1149,1003 1149,1018 1142,1018 1142,1033 1149,1033 1149,1040 1156,1040 1156,1055 1164,1055 1164,1085 1156,1085 1156,1100 1171,1100 1171,1151 1164,1151 1164,1174 1156,1174 1156,1182 1148,1182 1148,1205 1142,1205 1134,1220 1126,1228 1120,1234 1112,1242 1104,1250 1096,1257 1089,1272 1082,1280 1074,1287 1067,1294 1059,1302 1052,1309 1044,1316 1038,1324 1030,1331 1016,1339 1008,1346 1000,1354 986,1361 978,1369 963,1377 955,1385 941,1391 925,1399 860,1405 805,1398 754,1398 739,1391 739,1384 725,1376 725,1361 716,1353 716,1346 657,1346 657,1339 634,1339 634,1316 627,1316 627,1323 612,1323 612,1369 672,1369 672,1376 678,1376 678,1398 693,1398 693,1406 715,1406 715,1421 724,1421 724,1428 730,1428 730,1443 739,1443 739,1458 746,1458 746,1583 1476,1583 1476,88"/>
<rect x="1187" y="466" width="7" height="8"/>
<rect x="1179" y="474" width="22" height="6"/>
<rect x="1171" y="488" width="8" height="8"/>
<rect x="1164" y="496" width="7" height="8"/>
<rect x="1164" y="518" width="7" height="14"/>
<rect x="1171" y="540" width="8" height="8"/>
</g>
<polyline points="742.5,1197 750,1206 757,1215 757,1240 750,1250 746,1262 742.5,1275 735,1297 727.5,1316" fill="none" stroke="#a9a9a9" stroke-width="7.5"/>
<rect x="492.7" y="518" width="14" height="8" fill="#5e35fe"/><rect x="500" y="526" width="7" height="7" fill="#632cfe"/><rect x="500" y="533" width="15" height="7" fill="#4757fb"/><rect x="515" y="556" width="15" height="7" fill="#4757fb"/><rect x="507" y="548" width="15" height="8" fill="#3078f7"/><rect x="513.6" y="555" width="16" height="8" fill="#4757fb"/><rect x="544.5" y="649" width="14.5" height="9.6" fill="#4c4ffc"/><rect x="559" y="749.5" width="8" height="6.5" fill="#6923fe"/><rect x="596" y="860" width="7" height="12" fill="#5e35fe"/><rect x="603" y="872" width="14.5" height="12" fill="#583efd"/><rect x="625.6" y="913" width="8.2" height="15" fill="#5e35fe"/><rect x="627" y="1062" width="7" height="8" fill="#4757fb"/><rect x="664" y="1129.5" width="15" height="15.5" fill="#4757fb"/><rect x="634" y="1323" width="23" height="16" fill="#4757fb"/><rect x="648.6" y="1369" width="23.4" height="7" fill="#7a09ff"/><rect x="664" y="1376" width="15" height="8" fill="#6923fe"/><rect x="694" y="1399" width="22" height="16" fill="#4c4ffc"/><rect x="708" y="1407" width="8" height="14" fill="#632cfe"/><rect x="739" y="1458" width="7" height="15.5" fill="#4757fb"/><rect x="739" y="1496" width="7" height="13" fill="#6e1bff"/><rect x="730.5" y="1510" width="8.5" height="7" fill="#6e1bff"/><rect x="1267.5" y="810" width="7.8" height="6.4" fill="#ff0000"/><rect x="1261" y="816.4" width="6.5" height="7.6" fill="#ff1209"/><rect x="1253" y="816.4" width="8" height="7.6" fill="#ff8f4b"/><rect x="1261" y="810" width="6.5" height="6.4" fill="#ff7f42"/><rect x="1253" y="810" width="8" height="6.4" fill="#f7be68"/><rect x="1275" y="788" width="8" height="14" fill="#e0d378"/><rect x="1253" y="824" width="14" height="8" fill="#d4dd80"/><rect x="1275" y="802" width="8" height="8" fill="#ffa457"/><rect x="1171.4" y="965.7" width="7.8" height="7.8" fill="#ff0000"/><rect x="1163.6" y="965.7" width="7.8" height="7.8" fill="#ff783e"/><rect x="1179" y="958" width="7" height="8" fill="#fcb764"/><rect x="1163.6" y="973.5" width="7.8" height="7.5" fill="#d4dd80"/><rect x="1156" y="981" width="8" height="7" fill="#a7f79d"/>
<rect x="207" y="91" width="2" height="1489" fill="#a9a9a9"/>
<path d="M355 91V1580M541.4 91V1580M727.8 91V1580M914.2 91V1580M1100.6 91V1580M1287 91V1580M207 275.9H1473M207 462.4H1473M207 648.9H1473M207 835.4H1473M207 1021.9H1473M207 1208.4H1473M207 1394.9H1473" stroke="#000" stroke-opacity="0.35" stroke-width="2.1" stroke-dasharray="7.7 3.3" fill="none"/>
<rect x="207" y="91" width="1266" height="2" fill="#fff"/>
<path d="M219 180L248 161L269 145L289 127L309 108M219 193L251 171L283 147L303 128L321 108M219 228L262 197L293 171L322 141L347 108M219 283L237 263L286 216L314 186L340 154L373 108M219 350L236 315L251 291L268 270L297 240L315 220L332 198L380 129L398 108M219 382L231 361L250 323L266 299L274 288L312 249L330 227L377 158L395 136L414 117L424 108M219 403L235 381L262 331L278 308L296 287L325 258L342 237L382 180L400 158L419 138L429 130L440 122L462 108M297 303L345 255L362 233L395 188L413 167L423 157L433 149L455 134L501 108M373 235L407 191L426 171L436 163L458 147L526 108M219 440L237 421L255 400L284 351L300 328L319 308L359 271L377 251L403 218L421 197L441 179L462 163L519 130L552 108M219 459L241 438L259 417L275 394L297 357L314 335L323 325L373 280L418 228L437 208L457 190L468 182L490 167L524 148L546 133L567 117L577 108M219 499L268 441L284 418L306 381L322 359L341 339L371 312L391 293L446 231L465 212L486 195L507 180L552 152L574 137L584 128L603 108M219 613L226 587L231 574L243 547L314 424L329 400L337 389L355 368L403 320L457 257L485 227L505 209L515 200L537 186L571 165L592 149L612 130L628 108M564 182L586 168L607 151L625 131L641 108M579 185L601 171L621 153L639 131L654 108M219 1015L233 893L238 863L241 849L264 780L280 708L297 652L316 581L349 485L360 458L366 445L373 432L389 409L433 356L483 289L509 257L529 238L550 222L607 189L628 173L647 153L680 108M219 1289L222 1267L222 1193L226 1089L228 1060L235 1001L252 899L262 856L274 814L282 785L291 727L297 698L332 571L351 516L366 475L378 449L393 425L444 360L486 303L512 271L531 252L552 235L575 222L610 204L632 189L642 181L661 161L687 129L705 108M610 215L633 202L654 185L673 166L701 136L711 126L731 108M330 627L342 585L355 543L370 502L387 463L394 450L410 427L505 308L533 278L554 260L576 246L634 218L657 204L677 186L706 158L726 140L769 108M680 200L731 156L795 108M489 348L507 327L526 307L546 289L557 281L579 267L603 256L639 242L662 230L673 223L695 208L747 165L800 126L820 108M620 266L644 257L668 247L691 235L713 221L808 148L828 129L846 108M696 247L719 234L741 219L814 160L834 142L843 131L859 108M219 1326L227 1307L232 1294L235 1279L236 1264L237 1205L242 1086L246 1042L253 999L261 970L270 942L290 888L311 834L315 820L321 791L325 732L329 703L335 674L356 588L365 560L375 533L387 507L400 481L415 457L441 425L497 365L517 346L537 329L559 313L570 307L593 295L618 286L667 272L691 263L726 247L749 234L781 209L812 183L831 165L849 144L857 133L872 108M569 324L593 314L617 305L691 288L728 277L752 267L775 254L796 238L817 221L836 202L855 182L863 170L878 146L897 108M488 394L519 367L540 352L563 339L587 329L611 321L636 314L711 301L736 295L760 286L772 281L795 268L816 252L837 235L856 216L865 205L874 194L889 171L923 108M639 325L715 314L739 309L752 306L764 301L788 291L799 284L821 270L853 245L872 226L881 216L897 193L948 108M705 329L743 323L767 316L779 311L791 306L814 293L836 279L858 263L878 246L888 236L906 215L952 145L974 108M281 943L323 851L333 824L338 795L342 721L346 691L361 619L373 577L383 550L402 511L417 487L434 465L443 455L463 436L504 402L526 387L537 381L561 370L598 358L635 350L660 347L723 343L748 339L761 336L773 332L797 323L820 311L843 297L865 282L886 265L906 247L924 227L940 204L972 158L987 134L1000 108M592 373L617 368L642 364L667 362L731 360L756 357L781 351L793 347L816 336L839 324L872 302L894 286L915 269L934 250L960 217L991 171L1006 146L1025 108M649 377L737 377L775 373L800 367L824 357L847 345L869 331L902 307L922 290L942 272L960 251L976 228L1015 169L1051 108M410 513L426 490L434 479L444 469L464 451L486 436L508 422L531 410L543 406L556 402L580 396L606 392L631 390L669 389L745 392L770 391L795 389L820 383L832 379L844 374L867 361L889 346L920 321L950 293L968 273L985 250L1022 190L1076 108M592 404L630 402L655 402L756 409L781 410L807 410L832 406L844 403L856 398L879 387L901 372L922 355L952 327L979 297L988 286L1003 262L1030 211L1045 187L1102 108M509 433L533 423L545 420L570 416L596 415L621 415L659 418L747 429L785 433L810 434L823 434L848 430L860 427L885 418L896 412L918 398L939 381L979 344L997 324L1006 313L1014 302L1021 290L1027 276L1047 222L1060 196L1076 174L1112 131L1128 108M540 428L566 425L578 425L604 427L641 432L729 446L767 451L805 453L830 452L843 451L868 446L892 439L916 428L927 422L949 407L992 374L1023 349L1041 329L1049 317L1055 304L1058 290L1061 245L1064 231L1068 217L1075 204L1083 193L1091 182L1129 142L1138 132L1153 108M692 1578L702 1550L725 1498L736 1471M680 1578L688 1550L707 1495L715 1467L717 1452L719 1423M667 1578L694 1479L699 1450L701 1420M654 1578L679 1478L684 1449L687 1405M641 1578L660 1507L666 1478L671 1449M616 1578L626 1551L638 1509L648 1466L666 1379M590 1578L603 1552L618 1511L652 1384M564 1578L585 1540L596 1514L627 1416L642 1375M539 1578L554 1554L561 1542L573 1516L601 1433L611 1406L622 1379M513 1578L530 1556L537 1544L550 1518L559 1490L571 1448L579 1420L590 1393L603 1368M488 1578L506 1557L514 1546L528 1521L533 1508L541 1479L549 1436L555 1407L565 1380L579 1355L603 1320L627 1286L680 1222L705 1189L720 1165L748 1115L762 1091L778 1068L829 1001L844 978L873 929L906 883L923 861L941 840L961 822L992 797L1012 779L1031 759L1068 718L1097 690L1169 629L1190 613L1224 593M462 1578L481 1558L490 1548L498 1536L505 1524L511 1511L516 1497L522 1468L526 1424L530 1395L534 1381L539 1367L552 1342L568 1319L594 1287L613 1267L671 1209L689 1189L706 1166M437 1578L464 1547L472 1536L480 1524L487 1512L492 1498L496 1484L498 1470L499 1455L501 1410L504 1381L507 1366L511 1353L517 1339L531 1314L547 1292L566 1272L587 1255L630 1223L650 1206L670 1188L689 1168M424 1578L458 1535L466 1523L473 1510L478 1497L482 1483L484 1468L485 1453L488 1394L492 1365L496 1351L501 1337L514 1311L529 1288L538 1278L558 1259L579 1242L634 1206L665 1181M411 1578L443 1532L457 1507L462 1494L466 1480L468 1465L470 1450L473 1391L478 1362L486 1334L499 1308L513 1284L522 1273L540 1253L551 1244L572 1229L629 1195M398 1578L434 1517L445 1490L452 1461L459 1388L465 1359L474 1331L479 1318L492 1292L507 1268L516 1257L535 1238L545 1230L567 1215L613 1190M385 1578L397 1552L416 1513L427 1486L431 1472L438 1444L449 1371L453 1356L462 1329L480 1290L494 1265L510 1243L530 1224M373 1578L382 1550L404 1497L414 1470L425 1427L437 1370L445 1341L461 1301L480 1263L496 1239L505 1228L524 1210L535 1202L558 1188L592 1171M360 1578L367 1549L371 1536L393 1482L407 1441L430 1356L439 1328M347 1578L352 1549L355 1535L365 1507L393 1440L402 1413L414 1370M321 1578L324 1548L327 1534L330 1520L341 1493L365 1441L380 1400L413 1288L425 1230L432 1201L442 1174L468 1123L473 1109L476 1095L478 1080L477 1065L471 1007L470 977L470 962L473 933L476 918L484 890L489 877M309 1578L311 1548L313 1534L317 1520L327 1493L352 1441L363 1414M283 1578L285 1548L287 1534L290 1519L295 1506L306 1479L327 1442L338 1415L347 1388L361 1330L369 1287L372 1257L373 1228L370 1168L370 1139L371 1109L375 1080L385 1037L412 954L432 883L439 855L455 783L459 769L465 756M257 1578L258 1548L259 1534L262 1519L265 1505L270 1491L276 1478L311 1416L317 1403L325 1375L342 1288L346 1259L347 1244L347 1214L343 1140L344 1111L348 1081L351 1067L360 1039L387 972L397 945L406 917L418 875L425 846L427 832L434 758L441 729L445 715M245 1578L244 1548L245 1534L250 1504L254 1490L260 1477L273 1452L296 1416L302 1404L308 1390L316 1362L330 1290L334 1260L337 1231L337 1201L334 1142L334 1112L338 1083M232 1578L231 1548L231 1534L235 1504L239 1490L244 1477L250 1464L257 1451L273 1428M219 1532L223 1502L226 1488L232 1475L238 1462L245 1450L262 1427M219 1454L235 1432L262 1400L270 1389L278 1377L284 1364L292 1336L305 1278L312 1235L314 1205L313 1146L314 1116L317 1086L319 1072L326 1043L331 1030L342 1003L362 965L374 939L390 899L398 871L404 842L406 827L406 797L406 753L409 708L413 679L417 665L425 637M219 1408L239 1389L248 1379L257 1368L264 1356L270 1343L275 1330L287 1287L294 1244L297 1199L300 1110L303 1081L308 1052L316 1024L322 1010L328 997L356 948L368 922L384 881L391 853M219 1377L238 1357L246 1346L253 1333L259 1320L267 1292L272 1263L276 1234L283 1100L285 1071L290 1042L298 1014L304 1000L310 987L339 939L352 913L364 887L374 860L381 831L382 817L383 787L382 742L382 713L385 683L390 654L397 625L406 598L418 572L425 560L434 549M219 897L223 868L226 853L235 826L250 785M219 820L236 780L246 753L278 656L293 599L302 571L337 476L348 449L361 424L378 401L395 380M219 773L252 693L262 666L285 581M219 727L237 688L247 660L265 589L275 562L315 470L334 431L349 407L358 396L376 375L413 335L457 281M219 696L230 669L235 656L249 598L258 571L269 544L313 454M219 557L233 532L280 462L302 425M219 417L237 397L245 385L273 336L281 324M219 249L273 204L303 177L330 146L358 108M333 1578L336 1548L343 1519L348 1506L372 1453L383 1426L400 1371M219 1349L232 1330L238 1318L244 1304L247 1290L250 1276L253 1246L254 1202L260 1083L265 1039L272 1010L276 996L287 970L334 881L346 855L351 842L355 828L360 799L361 724L363 695L371 651L381 608L389 580L395 567L407 541L423 517L440 496L450 487L461 479L472 472L484 467L496 463L509 461L521 460L534 462L546 465L558 470L570 476L626 510L649 521L674 527L699 530L737 530L788 527L826 523L851 519L951 500L976 494L988 490L1023 474L1103 429L1126 416L1150 406L1198 388M1097 320L1101 309L1101 295L1083 255L1081 241L1082 226L1088 213L1096 202L1106 192L1147 159L1157 150L1166 139M269 1578L270 1547L272 1532L275 1518L279 1504L290 1477L318 1428M219 319L229 301L245 278L263 258L301 219M760 246L782 231L822 195L842 176L859 154M254 958L273 887L290 831L298 803L303 774L309 715L315 686L327 644M1099 212L1110 203L1121 196L1155 178L1166 170L1176 161L1185 150M270 1222L276 1104M279 1035L287 1007L293 994L306 968L334 919M470 266L488 245L507 226L528 208L550 194M922 248L931 238L948 216L988 158M1113 232L1117 237L1116 242L1110 245L1103 242L1100 233L1104 225L1115 219L1128 216L1165 217L1178 215M513 1470L519 1396L522 1381L526 1367L532 1354L545 1329L562 1306L580 1286L599 1267M301 414L316 390L333 368L352 348L382 321M1126 233L1134 242L1138 252L1138 261L1136 268L1131 273L1119 273L1107 267L1097 258L1091 246L1089 232M319 1283L324 1254L326 1224L326 1195L324 1135L326 1106L327 1091M395 309L459 237L478 218L498 200M879 406L902 392L923 376L962 339L990 308L1006 286L1013 273L1037 221M991 356L1011 337L1020 327L1028 316L1036 304L1041 290L1045 276L1054 233M537 1453L544 1410L547 1395L552 1382L565 1356L588 1321M334 1392L341 1364L350 1320L357 1277L360 1247L360 1232L359 1203L356 1158L356 1129L356 1114L360 1085L363 1070L367 1056L376 1028M401 371L428 340L479 273L506 242M338 1064L342 1050L352 1023L376 971L388 944M360 1392L378 1321L387 1278L390 1248L392 1159L398 1086L401 1056L409 1013L438 899M360 866L369 838L371 824L373 809L373 720L378 676M923 1392L926 1378L935 1351L937 1336L936 1322L929 1293L930 1279L936 1268L946 1259L957 1252L969 1247L981 1244L994 1244L1006 1247L1029 1259L1041 1263L1054 1264L1066 1263L1078 1257L1088 1249L1098 1239L1106 1234M872 1392L875 1378L880 1370L889 1365L910 1358L920 1349L927 1337L928 1324L923 1312L908 1289L906 1278L910 1268L916 1258L926 1248L936 1239L947 1232L959 1225L970 1220L983 1217L995 1215L1007 1218L1015 1226L1021 1236M846 1392L846 1377L845 1363L841 1352L816 1325L810 1312L811 1298L817 1288L826 1282L837 1281L848 1287L853 1296L852 1306L846 1313L837 1315L828 1312L825 1303L828 1295L835 1292M808 1392L805 1363L797 1319L797 1305L801 1291L809 1280L820 1272L832 1268L857 1266L869 1262L880 1254L908 1224L918 1216L940 1200L963 1188L975 1183L1000 1176L1012 1174L1025 1174L1037 1174L1050 1178L1057 1184L1054 1188L1041 1202L1034 1214L1031 1228L1035 1239L1042 1247L1053 1251L1064 1250L1074 1242L1078 1230L1075 1220L1067 1214L1057 1213L1047 1218L1042 1228L1045 1238L1051 1243L1060 1245L1068 1240M782 1392L778 1348L778 1318L781 1304L785 1290L791 1277L800 1266L809 1257L840 1230L897 1171L956 1115L976 1098L1030 1057L1080 1013L1100 994L1119 974L1136 952L1142 940L1147 926L1149 912L1145 904L1122 877L1114 865L1100 841L1094 828L1090 814L1088 799L1088 785L1091 770L1096 757L1103 744L1110 732L1119 722L1138 701L1176 663L1197 646L1218 630L1241 617M373 1392L396 1308L403 1279M758 1392L755 1362L755 1347L757 1318L760 1303L765 1289L771 1276L778 1264L795 1242L832 1202L859 1170L883 1136L929 1065L955 1032L1009 970L1058 923L1076 903L1084 891L1089 877L1090 863L1089 848M744 1377L743 1347L744 1332L750 1304L754 1290L760 1276L766 1264L783 1241M838 391L861 381L873 374L895 360L926 334L945 315L964 296M974 1361L959 1338L952 1326L946 1313L944 1298L947 1284L955 1275L966 1269L978 1268L991 1269L1027 1282L1064 1288M559 1442L566 1413L577 1386L590 1361L605 1337M411 1361L424 1320L454 1238L467 1212L474 1200L492 1180L513 1162L534 1146L546 1139L569 1128M398 1269L406 1180L416 1107L418 1062L420 1033L427 989M398 820L398 731L400 701L404 672M510 386L532 371L543 364L567 353L591 344L628 334M1281 742L1243 736L1231 733L1219 728L1213 721L1213 712L1217 705L1225 696L1235 688L1246 680L1269 667M411 1253L420 1195L427 1166L439 1124L442 1110L444 1095L444 1080L441 1036L442 1006L446 962L451 933L462 890L471 862L477 849L483 836L492 825L502 817M1281 759L1230 755L1205 752L1193 750L1181 745L1171 737L1168 728L1171 719L1176 710L1185 699L1195 689L1215 672L1226 664L1248 650M1281 774L1218 771L1192 768L1180 766L1168 763L1156 758L1147 748L1145 738L1147 729L1153 718L1171 697L1190 678L1211 660L1232 645L1255 632M1281 789L1218 787L1192 785L1167 781L1155 778L1143 773L1133 765L1128 755L1128 744L1132 734L1140 722M1268 804L1230 804L1192 801L1167 797L1142 791L1131 786L1120 778L1115 768L1115 756L1118 744M986 1293L992 1300L993 1310L988 1321L978 1325L966 1322L959 1314L956 1303L958 1292L968 1284L980 1284L991 1289L999 1298L1003 1310L1003 1321L1000 1330L993 1336L984 1338M692 1330L703 1303L715 1277L728 1252L743 1228M661 1343L680 1305L699 1267L714 1242L737 1207M641 1330L685 1258L739 1175L771 1111L785 1087L801 1063L841 1006L870 957M424 1284L439 1227L450 1201L456 1188L472 1165L489 1143L535 1092L554 1072M424 789L426 759L430 730L436 701L446 674M902 450L926 440L949 428L1038 371M962 432L1030 392L1075 364M987 434L1033 410L1090 377L1114 366L1126 361M469 466L492 455L504 450L517 447L529 446L542 446L554 447L579 452L640 474L664 481L702 488L740 490L778 490L816 488L854 483L916 472L941 465L965 457L989 446L1024 429L1104 385L1128 375L1153 367M1255 820L1217 819L1192 816L1167 813L1142 807L1130 803L1119 797L1109 787L1105 774M1255 851L1218 848L1155 838L1142 836L1130 832L1119 826L1108 818L1100 807M902 1299L894 1296L887 1297L879 1303L863 1326L853 1333L841 1333L830 1330L820 1322M977 467L1001 457L1024 446L1116 396L1140 387L1177 375M1157 665L1177 647L1198 630L1220 616L1243 603M634 1311L665 1265L705 1208M449 1299L461 1273L473 1247L489 1224L498 1213L507 1204L528 1187L551 1173L574 1161M443 1189L456 1163L485 1114L490 1101L495 1087L497 1072L497 1058L490 984L489 954L490 940L493 925L497 911M449 1129L454 1115L456 1101L457 1086L453 1012M445 896L458 854L467 826L473 813L480 800L488 790M569 489L601 514L623 529L646 541L670 549L695 553L733 554L784 553L822 550L847 546L872 540L971 515L995 506L1030 489L1098 449L1132 431L1156 420L1204 402M1230 882L1181 867L1143 861L1131 857L1120 850L1110 841M891 1289L885 1286L884 1284L890 1272L898 1260L907 1249L916 1240L926 1231L948 1216L971 1205L984 1201L996 1199L1009 1199L1017 1204L1021 1212M462 1052L458 1008L458 978L461 948L466 919M451 502L462 495L474 489L486 486L499 486L511 488L523 493L534 500L544 509L563 529L597 573L615 594L625 603L636 611L647 618L671 628L683 632L708 637L758 644L796 645L821 643L834 641L846 637L870 628L893 616L950 584L1077 517L1113 501L1137 492L1161 484M550 496L570 513L599 543L618 561L640 576L652 582L676 591L713 598L776 605L802 607L814 606L839 603L852 599L876 590L934 562L982 542L1006 531L1029 518L1086 486L1120 468L1144 457L1168 448L1217 433M1217 897L1194 884L1183 879L1170 876L1145 874L1133 870L1122 862M468 1234L475 1222L483 1211L502 1191L512 1182L534 1167L556 1153L568 1148M722 1013L745 1001L767 986L788 969L797 960L816 939L903 831L921 811L931 802L1005 745L1026 727L1075 681L1116 647L1148 623L1170 608L1216 581M834 1258L846 1253L857 1246L906 1199L927 1182L949 1168L972 1155L984 1150L1032 1133L1044 1127L1054 1118L1070 1096L1079 1085L1089 1076L1100 1069L1135 1051L1146 1044M488 1129L503 1106L510 1093L515 1080L519 1066L523 1036L524 977M591 445L665 465L702 473L727 475L753 477L791 477L816 477M642 446L679 454L717 460L780 465L805 466L830 465L856 462L881 457M598 799L635 810L659 816L685 819L710 821L735 820L760 816L785 810L810 802L833 792L844 785L888 755L911 741L981 707L1003 694L1025 679L1078 638L1111 616L1145 596L1191 572M1234 746L1209 741L1198 737L1192 733L1188 725L1191 711L1200 700L1220 682M761 1249L778 1227L805 1195L829 1161L843 1137L870 1086L891 1049L927 988L958 941L975 919L993 898L1031 859L1040 849L1048 837L1056 825L1062 812L1078 772L1091 747M503 509L514 516L524 525L533 535L550 557L579 606L595 629L605 639L615 648L625 655L637 661L649 666L674 672L711 676L749 677L787 675L813 672L837 666L862 657L885 647L908 635L966 604L1034 564L1069 547L1093 537L1117 528L1203 503M556 728L579 740L603 749L628 755L653 757L666 756L691 753L791 735L816 729L828 726L852 717L983 661L1006 649L1061 612L1095 592L1131 576L1191 552M795 1222L822 1191L846 1157L861 1133L895 1070L910 1046L933 1010L964 964L981 942L999 920L1037 881L1046 871L1054 860L1061 847L1067 834L1074 806M769 1222L795 1190L811 1167L825 1142L865 1066L915 981L938 945L962 911L980 889L999 869L1028 841L1037 831M568 462L626 491L650 500L675 506L688 508L713 510L738 510L776 508L839 502L939 485L976 475M556 679L576 697L587 704L599 710L611 714L623 718L636 720L661 721L699 718L774 707L812 700L837 693L861 684L955 642L990 624L1046 589L1081 572L1117 557L1166 541M880 1204L909 1176L951 1142L973 1127L1018 1100L1040 1085L1102 1033L1130 1004L1147 982L1154 970L1160 956L1163 942L1166 913L1165 906L1162 903L1148 898M1099 1120L1101 1112L1108 1108L1116 1111L1120 1118L1119 1127L1112 1135L1102 1136L1093 1132L1087 1123L1087 1111L1094 1099L1104 1092L1117 1089L1129 1091L1140 1097L1150 1106L1159 1117L1166 1129M1130 1111L1133 1123L1129 1137L1121 1148L1106 1163L1102 1170L1103 1181L1108 1194L1122 1219M817 1236L837 1217L864 1186L900 1144L944 1090L962 1070L1022 1014L1082 961L1102 942L1110 931L1117 919L1121 905L1120 891L1115 878M469 1187L486 1166L516 1138L537 1121L548 1114L559 1108L571 1103M526 510L536 520L554 541L593 599L610 621L620 630L630 638L642 645L654 650L666 654M1018 1167L1043 1165L1081 1165L1085 1171L1089 1180L1089 1191L1086 1194L1073 1193L1060 1194M761 1203L777 1180L792 1155L824 1091L838 1067L868 1019L904 958L920 934L944 900L970 868L989 849L1020 822L1029 812L1046 790L1070 755L1086 733L1105 712L1144 675M749 1188L763 1163L803 1087L818 1063L857 1005L893 944L908 920L933 886L950 864L959 854M552 650L570 670L580 679L591 687L602 694L614 699L626 703L638 706L651 707L676 708M552 588L566 612L582 636L590 646L600 656L611 664L622 671L634 676L646 680L658 683L683 686M619 545L641 559L653 564L677 572L702 576L727 578L778 581L803 581L829 579L854 574L878 565L926 547L987 526M933 1117L952 1097L971 1078L1083 980L1102 961L1112 951L1120 940L1128 928L1132 915L1132 903L1128 893M564 711L587 725L599 729L611 733L636 737L649 738L674 736L775 720M667 541L692 545L730 547L781 545L818 542M705 1145L745 1087L771 1055M620 882L645 887L671 890L708 892L734 889L746 886L758 883L782 872L805 859L837 834L857 816L886 788L906 771L928 756L985 723L1007 708L1029 692L1080 650L1102 634L1135 612M937 1076L963 1044L1001 1004L1031 976L1071 940L1090 920L1097 909L1103 895L1104 881L1102 866M965 1147L988 1135L1023 1119L1035 1112L1046 1105L1065 1086M669 1137L690 1120L709 1102L776 1033L803 1002L828 968L859 921L875 898L909 854L927 833L946 814L999 773L1028 745M590 773L614 781L639 787L652 789L677 790L715 788L791 777L815 771L839 762L897 731L944 709M843 624L856 620L879 609L948 572M966 839L997 813L1017 795L1036 775L1071 732L1089 711M603 820L652 834L689 842L715 844L727 843L753 840L777 833L789 829L813 818L824 812L847 798L878 773M618 579L639 595L651 602L675 611L699 617L750 625L788 629L813 629L838 625M922 1047L954 1001L988 957L1006 936L1045 897L1054 887L1062 876L1069 863L1074 850L1076 835M992 1101L1025 1079L1066 1045L1086 1027L1106 1008L1133 977M650 1048L660 1053L666 1061L669 1073L669 1084L666 1096L668 1099L680 1098L692 1094L703 1087L724 1071L754 1043M616 851L653 860L678 865L703 868L728 868L741 866L765 859L789 849L812 837M616 773L641 778L653 779L679 779L704 777L754 769M872 668L954 628L977 616L1000 603M1015 945L1054 907L1064 897L1072 886L1078 873L1082 859M933 666L968 651L992 639L1047 604L1082 585M666 1051L683 1065L692 1067L705 1064L716 1058L727 1050L758 1025L788 997L815 966L839 932M641 928L667 928L692 926L730 921L754 914L778 903L800 888L830 862L850 843L888 803L907 784L928 768L950 754M629 911L654 913L679 914L705 913L730 909M641 804L679 810L704 811L730 810L767 805M641 696L666 699L692 699L730 697L780 692M946 700L982 684L1005 672L1027 657L1081 619L1104 605L1138 587M680 650L705 654L730 657L768 659L793 659M680 959L717 952L742 945L766 935L777 928L798 913L818 894L847 865L875 834M716 764L804 749L829 742L853 733L900 711L936 696M706 994L742 980L765 968L786 952L806 934M705 975L742 963L765 952L787 937L798 928L817 909M925 781L946 766L1001 729L1022 712L1043 695M883 939L898 916L923 882L949 850" fill="none" stroke="#000" stroke-width="3.2" stroke-linecap="round" stroke-linejoin="round"/>
<path d="M264 149L251 175L235 155ZM278 151L266 177L250 158ZM288 175L277 202L260 183ZM300 201L292 229L273 212ZM310 225L303 253L284 237ZM316 243L309 271L290 255ZM329 253L321 281L302 264ZM391 193L385 221L365 206ZM442 159L428 184L413 164ZM372 256L365 284L346 268ZM387 264L379 292L360 276ZM395 288L387 315L368 298ZM389 335L379 362L361 344ZM612 146L602 174L584 156ZM625 148L618 175L599 159ZM342 505L345 534L321 526ZM315 635L320 663L296 656ZM678 161L670 189L651 172ZM492 324L485 352L466 336ZM736 151L723 177L708 158ZM656 233L639 256L627 234ZM740 201L727 227L712 208ZM788 182L776 208L760 188ZM355 595L360 624L336 617ZM769 258L754 282L741 261ZM742 293L721 313L713 289ZM827 266L813 292L798 271ZM863 259L851 285L835 266ZM510 398L496 424L481 403ZM856 313L841 338L827 317ZM896 311L883 337L868 317ZM789 389L765 405L762 380ZM907 368L894 394L879 374ZM890 415L873 438L862 416ZM933 418L918 443L904 422ZM710 1530L711 1559L688 1549ZM704 1502L707 1530L684 1522ZM688 1500L693 1529L669 1522ZM677 1485L684 1513L659 1508ZM658 1514L664 1542L640 1537ZM647 1473L653 1501L629 1496ZM628 1476L633 1505L609 1498ZM607 1479L612 1508L588 1500ZM585 1481L589 1510L565 1502ZM565 1469L571 1497L547 1491ZM800 1040L793 1068L774 1053ZM548 1348L546 1377L525 1364ZM514 1346L516 1375L493 1365ZM494 1358L499 1386L475 1379ZM480 1355L485 1383L461 1377ZM467 1352L471 1380L447 1373ZM445 1393L454 1420L429 1416ZM443 1348L447 1377L424 1370ZM405 1448L409 1476L385 1468ZM379 1474L381 1503L358 1493ZM427 1223L433 1251L409 1245ZM325 1499L326 1528L303 1518ZM370 1161L383 1187L358 1187ZM343 1148L356 1173L331 1174ZM320 1340L327 1368L303 1364ZM237 1497L242 1525L218 1519ZM229 1481L232 1510L208 1501ZM324 1050L329 1079L305 1072ZM299 1133L311 1159L286 1158ZM321 969L318 998L297 985ZM228 846L233 875L209 868ZM295 592L300 621L276 614ZM259 673L263 701L239 693ZM307 489L308 518L285 508ZM255 578L258 606L235 598ZM260 491L256 519L235 505ZM256 367L254 396L232 384ZM298 182L288 209L271 191ZM363 1473L364 1502L341 1491ZM411 535L408 564L387 551ZM1085 220L1087 249L1064 239ZM282 1497L284 1526L261 1517ZM258 263L249 290L231 273ZM817 200L807 227L790 208ZM299 796L307 824L282 819ZM1149 181L1133 205L1121 183ZM274 1155L285 1182L260 1181ZM302 974L301 1003L279 991ZM502 230L493 257L475 240ZM961 199L956 228L935 213ZM1121 217L1098 235L1093 210ZM529 1361L531 1389L508 1380ZM337 363L329 390L311 374ZM1125 273L1151 262L1150 287ZM326 1187L339 1213L314 1214ZM445 252L437 280L418 263ZM976 324L968 351L949 334ZM1038 297L1040 326L1017 316ZM550 1389L553 1417L529 1409ZM360 1210L374 1235L349 1237ZM449 312L444 340L424 325ZM361 1003L361 1032L339 1021ZM392 1152L403 1179L378 1177ZM373 772L386 798L361 798ZM963 1249L943 1271L934 1247ZM908 1273L912 1302L888 1294ZM814 1293L811 1322L790 1309ZM969 1185L950 1207L940 1184ZM1075 1018L1065 1044L1048 1026ZM390 1329L395 1357L371 1351ZM902 1107L899 1135L878 1122ZM748 1311L754 1339L730 1333ZM910 347L898 373L882 354ZM960 1272L943 1295L931 1273ZM574 1393L575 1422L552 1412ZM463 1218L461 1247L440 1235ZM413 1129L422 1156L397 1153ZM397 753L410 779L385 779ZM561 356L542 378L532 355ZM1213 717L1225 743L1200 742ZM441 1028L454 1054L429 1054ZM1169 733L1188 755L1164 761ZM1146 734L1152 762L1128 756ZM1186 784L1214 775L1210 800ZM1173 798L1201 790L1197 815ZM963 1288L951 1314L935 1295ZM712 1284L712 1312L689 1302ZM696 1273L695 1302L673 1290ZM755 1143L755 1172L733 1161ZM468 1170L463 1199L443 1184ZM429 737L437 765L412 761ZM977 411L962 436L949 415ZM1024 395L1009 420L996 398ZM1051 400L1034 424L1022 402ZM822 487L797 502L795 477ZM1173 814L1201 805L1197 830ZM1174 841L1201 833L1197 858ZM867 1321L873 1292L893 1307ZM1076 418L1060 441L1047 420ZM1192 634L1179 660L1164 640ZM669 1259L664 1287L644 1273ZM493 1218L486 1246L467 1230ZM497 1050L511 1075L486 1077ZM456 1064L471 1089L446 1091ZM460 847L464 875L440 868ZM890 535L868 554L862 530ZM1162 864L1189 855L1186 880ZM942 1219L927 1244L914 1223ZM458 985L470 1012L445 1011ZM790 645L764 658L764 633ZM882 587L864 609L853 587ZM1176 878L1204 871L1199 895ZM507 1186L495 1213L479 1194ZM957 781L944 807L929 787ZM990 1148L970 1169L961 1145ZM520 1058L529 1086L504 1082ZM696 472L668 480L672 455ZM761 464L734 475L736 450ZM905 745L889 768L876 747ZM1190 718L1195 747L1171 740ZM924 994L920 1023L899 1010ZM831 667L809 686L803 662ZM882 704L863 726L853 703ZM929 1016L925 1045L904 1031ZM890 1023L887 1052L866 1039ZM770 509L745 523L743 498ZM867 682L848 703L838 680ZM1056 1073L1044 1099L1028 1080ZM1090 1105L1088 1133L1066 1121ZM1109 1160L1119 1133L1136 1151ZM977 1056L967 1083L949 1065ZM511 1142L499 1169L483 1150ZM589 594L564 579L584 565ZM1078 1165L1051 1175L1053 1150ZM932 917L927 945L906 931ZM845 1022L841 1051L821 1037ZM608 697L579 697L589 675ZM605 660L577 654L593 634ZM810 581L784 595L783 570ZM1047 1011L1036 1038L1020 1019ZM668 737L643 752L641 727ZM736 547L710 560L710 535ZM733 1104L728 1133L708 1118ZM891 784L880 810L863 792ZM1036 972L1025 998L1008 980ZM1017 1121L999 1144L988 1121ZM847 939L844 967L823 954ZM772 780L748 796L744 771ZM897 600L880 624L868 602ZM1031 780L1024 808L1005 792ZM746 841L723 858L719 833ZM718 621L691 629L695 604ZM1002 941L994 969L975 952ZM1071 1041L1060 1067L1044 1049ZM686 1096L666 1117L657 1094ZM722 868L697 882L695 857ZM685 779L660 793L658 768ZM936 637L918 660L907 637ZM1059 902L1051 930L1032 913ZM1009 629L993 654L980 633ZM763 1021L752 1047L736 1029ZM815 875L803 902L787 883ZM686 914L660 927L659 902ZM698 811L672 823L672 798ZM711 699L685 713L684 688ZM1043 646L1030 671L1015 651ZM736 658L709 668L711 643ZM793 917L781 943L765 923ZM835 740L815 761L806 738ZM759 971L743 995L730 973ZM771 948L755 972L742 951ZM985 740L971 765L957 745ZM910 899L905 927L885 912Z" fill="#000" stroke="#000" stroke-width="3.2" stroke-linejoin="round"/>
</g>
<rect x="205.5" y="89.5" width="1269" height="1492" fill="none" stroke="#000" stroke-width="3"/>
<g clip-path="url(#c1)">
<rect x="1729" y="91" width="1266" height="1489" fill="#14c9e5"/>
<path d="M2341 1488L2360 1489L2389 1499L2463 1537L2509 1564L2519 1573L2526 1585L2473 1585L2318 1585L2314 1573L2291 1543L2287 1525L2293 1513L2305 1503L2323 1493L2341 1488Z" fill="#2883f6" stroke="#2883f6" stroke-width="1" fill-rule="evenodd"/>
<path d="M2209 1231L2215 1227L2227 1227L2239 1233L2250 1243L2268 1267L2305 1338L2323 1363L2335 1372L2371 1387L2380 1399L2389 1429L2397 1441L2527 1541L2549 1561L2557 1573L2560 1585L2526 1585L2521 1575L2513 1567L2461 1536L2377 1494L2353 1488L2335 1489L2319 1495L2300 1507L2293 1513L2287 1525L2291 1543L2314 1573L2318 1585L2241 1585L2227 1528L2191 1309L2191 1289L2194 1267L2202 1243L2209 1231Z" fill="#228bf4" stroke="#228bf4" stroke-width="1" fill-rule="evenodd"/>
<path d="M2215 1110L2233 1116L2263 1139L2327 1195L2408 1273L2431 1285L2473 1297L2487 1309L2491 1321L2493 1333L2489 1387L2493 1405L2539 1489L2583 1555L2590 1573L2592 1585L2560 1585L2553 1567L2539 1551L2397 1441L2389 1429L2380 1399L2371 1387L2341 1375L2323 1363L2311 1348L2269 1268L2250 1243L2233 1229L2221 1225L2215 1227L2205 1237L2197 1255L2193 1273L2191 1309L2227 1528L2241 1585L2196 1585L2197 1543L2195 1513L2183 1417L2168 1321L2166 1285L2173 1222L2185 1157L2197 1124L2203 1116L2215 1110Z" fill="#1c92f3" stroke="#1c92f3" stroke-width="1" fill-rule="evenodd"/>
<path d="M2257 1008L2317 1004L2353 1010L2397 1033L2443 1053L2467 1067L2515 1101L2587 1159L2605 1166L2647 1172L2701 1187L2743 1191L2778 1189L2797 1177L2797 1171L2821 1147L2833 1147L2839 1153L2851 1153L2857 1159L2869 1159L2875 1165L2887 1165L2893 1171L3001 1171L3001 1585L2592 1585L2590 1573L2583 1555L2529 1471L2491 1399L2489 1381L2493 1333L2491 1320L2485 1307L2473 1297L2431 1285L2408 1273L2327 1195L2245 1125L2227 1113L2215 1110L2209 1112L2197 1124L2185 1157L2174 1213L2167 1273L2167 1315L2187 1441L2197 1543L2196 1585L2172 1585L2170 1525L2147 1303L2149 1261L2166 1099L2170 1081L2177 1063L2197 1037L2209 1027L2227 1016L2257 1008Z" fill="#1799f2" stroke="#1799f2" stroke-width="1" fill-rule="evenodd"/>
<path d="M2311 774L2335 772L2359 779L2401 803L2449 837L2467 861L2489 931L2504 955L2529 979L2611 1043L2650 1081L2665 1091L2683 1092L2695 1085L2737 1042L2749 1034L2761 1031L2779 1034L2833 1055L2953 1095L2977 1101L3001 1104L3001 1171L2893 1171L2887 1165L2875 1165L2869 1159L2857 1159L2851 1153L2839 1153L2833 1147L2821 1147L2797 1171L2797 1177L2778 1189L2761 1191L2725 1190L2695 1186L2642 1171L2605 1166L2587 1159L2491 1083L2438 1051L2349 1009L2329 1005L2299 1004L2257 1008L2227 1016L2209 1027L2197 1037L2177 1063L2170 1081L2165 1105L2147 1297L2149 1333L2170 1531L2172 1585L2149 1585L2130 1309L2147 1075L2152 1057L2161 1039L2218 961L2234 931L2238 907L2233 829L2234 817L2237 811L2277 787L2311 774Z" fill="#11a0f0" stroke="#11a0f0" stroke-width="1" fill-rule="evenodd"/>
<path d="M2977 301L3001 301L3001 491L2983 494L2965 500L2845 553L2815 562L2797 561L2785 555L2761 524L2755 536L2749 579L2737 703L2725 749L2701 793L2620 901L2612 919L2610 937L2615 961L2633 997L2659 1041L2668 1051L2677 1057L2683 1058L2695 1054L2737 1020L2749 1014L2761 1014L2815 1038L2857 1053L2965 1088L3001 1094L3001 1104L2977 1101L2953 1095L2767 1031L2755 1032L2741 1039L2701 1081L2689 1089L2671 1092L2659 1088L2611 1043L2529 979L2504 955L2489 931L2467 861L2449 837L2383 792L2359 779L2341 773L2323 772L2299 777L2265 793L2237 811L2233 823L2238 895L2237 919L2229 943L2214 967L2161 1039L2150 1063L2145 1087L2130 1309L2149 1585L2124 1585L2114 1339L2114 1291L2128 1063L2139 1033L2171 979L2177 961L2178 949L2170 919L2122 817L2109 769L2108 745L2113 716L2125 679L2137 656L2149 643L2167 637L2317 633L2413 611L2443 606L2473 610L2515 627L2533 632L2563 634L2587 630L2599 622L2605 607L2604 583L2595 529L2595 511L2599 493L2618 445L2629 429L2643 415L2677 391L2689 387L2701 388L2713 397L2737 435L2743 442L2749 444L2839 333L2857 331L2857 319L2863 319L2869 313L2917 313L2923 307L2971 307L2977 301Z" fill="#0ba7ef" stroke="#0ba7ef" stroke-width="1" fill-rule="evenodd"/>
<path d="M2707 85L2802 85L2803 105L2815 103L2809 97L2809 85L3001 85L3001 301L2977 301L2971 307L2923 307L2917 313L2869 313L2863 319L2857 319L2857 331L2839 333L2749 444L2743 442L2737 435L2713 397L2701 388L2695 386L2683 388L2650 409L2635 422L2621 439L2611 459L2600 487L2596 505L2595 523L2604 583L2605 607L2599 622L2587 630L2563 634L2533 632L2515 627L2473 610L2443 606L2413 611L2323 632L2287 635L2173 636L2155 640L2143 649L2131 666L2115 709L2109 739L2109 769L2114 793L2125 825L2172 925L2177 943L2178 955L2171 979L2139 1033L2130 1057L2126 1087L2120 1207L2113 1315L2124 1585L2101 1585L2102 1525L2096 1309L2107 1075L2113 1039L2139 985L2145 961L2140 937L2109 871L2097 835L2086 787L2083 751L2088 709L2107 621L2119 578L2131 550L2143 535L2155 528L2167 524L2197 521L2293 520L2329 517L2425 492L2449 483L2462 475L2473 465L2482 451L2527 348L2571 271L2653 145L2671 122L2703 91L2707 85ZM2989 493L3001 491L3001 513L2983 516L2963 523L2851 573L2803 592L2790 601L2781 619L2777 691L2765 733L2737 784L2662 889L2649 913L2642 937L2645 961L2654 985L2670 1015L2683 1028L2689 1029L2701 1027L2737 1001L2743 999L2755 999L2803 1025L2833 1038L2959 1080L3001 1088L3001 1094L2995 1094L2971 1090L2941 1081L2827 1043L2767 1015L2755 1013L2737 1020L2695 1054L2683 1058L2677 1057L2668 1051L2657 1039L2626 985L2613 955L2610 931L2614 913L2624 895L2701 793L2725 749L2737 703L2749 579L2755 536L2761 524L2785 555L2797 561L2815 562L2845 553L2959 502L2989 493Z" fill="#06aeed" stroke="#06aeed" stroke-width="1" fill-rule="evenodd"/>
<path d="M2443 85L2707 85L2703 91L2671 122L2653 145L2571 271L2527 348L2482 451L2473 465L2462 475L2449 483L2425 492L2329 517L2293 520L2197 521L2167 524L2155 528L2143 535L2133 547L2126 559L2113 598L2101 646L2088 709L2083 745L2085 781L2097 835L2109 871L2140 937L2145 961L2139 985L2115 1033L2108 1063L2097 1291L2097 1333L2101 1519L2101 1585L2081 1585L2078 1291L2089 1057L2094 1027L2110 985L2112 967L2108 949L2089 901L2077 861L2065 793L2061 751L2065 715L2096 535L2103 517L2116 499L2131 485L2155 469L2203 445L2249 427L2344 403L2359 395L2371 385L2382 367L2390 343L2416 187L2435 115L2439 85L2443 85ZM2803 85L2809 85L2809 97L2815 103L2809 103L2803 105L2803 85ZM2983 516L3001 513L3001 649L2995 649L2989 643L2983 643L2893 652L2881 658L2821 708L2767 767L2693 865L2668 907L2662 925L2661 943L2665 961L2675 985L2683 996L2694 1003L2707 1002L2737 986L2749 985L2761 990L2803 1018L2827 1030L2959 1074L3001 1082L3001 1087L2983 1086L2959 1080L2845 1042L2809 1028L2755 999L2743 999L2737 1001L2701 1027L2689 1029L2683 1028L2671 1017L2656 991L2645 961L2642 943L2646 919L2658 895L2737 784L2765 733L2777 691L2781 619L2790 601L2803 592L2983 516Z" fill="#00b4ec" stroke="#00b4ec" stroke-width="1" fill-rule="evenodd"/>
<path d="M2323 85L2439 85L2435 115L2413 201L2391 337L2382 367L2371 385L2353 399L2329 408L2268 421L2221 438L2155 469L2137 480L2119 496L2103 517L2095 540L2066 709L2062 739L2061 763L2071 829L2083 883L2108 949L2112 967L2110 985L2093 1033L2088 1069L2078 1303L2081 1489L2081 1585L2064 1585L2056 1309L2068 1057L2072 1027L2079 991L2080 973L2056 877L2043 793L2040 757L2041 727L2057 625L2066 541L2073 517L2082 499L2101 475L2119 457L2149 434L2255 373L2270 361L2284 343L2291 325L2295 307L2319 133L2323 85ZM2917 649L2989 643L2995 649L3001 649L3001 793L2967 787L2839 754L2815 754L2797 760L2779 772L2761 790L2704 865L2682 907L2677 925L2677 937L2684 961L2693 973L2701 978L2713 978L2737 973L2749 975L2761 981L2798 1009L2821 1022L2940 1063L2977 1074L3001 1077L3001 1082L2965 1076L2827 1030L2803 1018L2761 990L2749 985L2737 986L2701 1004L2689 1001L2679 991L2671 977L2665 961L2661 943L2661 931L2666 913L2681 883L2710 841L2779 753L2815 714L2881 658L2893 652L2917 649Z" fill="#06baea" stroke="#06baea" stroke-width="1" fill-rule="evenodd"/>
<path d="M2257 85L2322 85L2319 133L2295 307L2290 331L2281 349L2263 367L2236 385L2137 442L2107 468L2082 499L2073 517L2067 535L2057 625L2041 727L2040 763L2047 823L2060 895L2078 961L2080 979L2069 1051L2056 1291L2062 1537L2064 1585L2043 1585L2030 1309L2051 985L2022 799L2018 751L2031 637L2038 541L2044 517L2052 499L2095 445L2131 410L2201 361L2212 349L2220 337L2227 307L2255 85L2257 85ZM2809 755L2827 753L2845 755L2967 787L3001 793L3001 821L2995 820L2958 811L2839 773L2809 770L2797 773L2779 784L2761 802L2735 835L2710 871L2696 901L2692 925L2697 943L2701 950L2713 958L2737 962L2755 969L2803 1007L2833 1022L2959 1064L3001 1073L3001 1077L2971 1073L2833 1027L2803 1012L2761 981L2749 975L2731 973L2707 979L2695 975L2688 967L2680 949L2677 931L2682 907L2693 883L2721 841L2767 783L2785 767L2809 755Z" fill="#0bc0e8" stroke="#0bc0e8" stroke-width="1" fill-rule="evenodd"/>
<path d="M2203 85L2255 85L2228 301L2222 331L2212 349L2201 361L2125 415L2083 458L2060 487L2049 505L2042 523L2038 547L2031 637L2018 751L2022 799L2051 985L2030 1297L2043 1567L2043 1585L2018 1585L2013 1471L2001 1309L2002 1267L2021 1003L2019 961L1995 757L2010 541L2017 511L2034 481L2095 407L2143 355L2155 337L2163 313L2201 139L2204 115L2203 85ZM2797 773L2815 770L2839 773L2977 817L3001 821L3001 832L2983 829L2845 785L2821 780L2797 783L2785 789L2773 799L2743 835L2720 871L2707 901L2707 923L2710 931L2719 942L2755 961L2797 997L2816 1009L2845 1022L2953 1058L2983 1066L3001 1068L3001 1073L2971 1068L2833 1022L2803 1007L2755 969L2737 962L2713 958L2700 949L2694 937L2692 919L2696 901L2707 877L2730 841L2761 802L2779 784L2797 773Z" fill="#11c6e6" stroke="#11c6e6" stroke-width="1" fill-rule="evenodd"/>
<path d="M2173 85L2202 85L2204 121L2157 331L2143 355L2095 407L2030 487L2017 511L2010 541L1995 751L1997 781L2021 991L2020 1039L2001 1297L2014 1477L2018 1579L2018 1585L1990 1585L1990 1537L1985 1465L1967 1297L1987 1009L1984 937L1970 757L1982 541L1988 511L1999 488L2079 379L2107 331L2125 277L2160 151L2167 117L2169 85L2173 85ZM2803 781L2821 780L2839 783L2960 823L3001 832L3001 840L2977 836L2851 795L2821 788L2797 791L2785 797L2773 807L2746 841L2728 871L2720 895L2718 907L2720 919L2733 937L2761 958L2803 995L2825 1009L2959 1055L3001 1064L3001 1068L2971 1063L2827 1015L2797 997L2755 961L2720 943L2713 936L2707 925L2706 907L2711 889L2723 865L2743 835L2767 805L2785 789L2803 781Z" fill="#17cce4" stroke="#17cce4" stroke-width="1" fill-rule="evenodd"/>
<path d="M2143 85L2169 85L2167 115L2158 157L2113 313L2101 343L2087 367L1996 493L1986 517L1982 541L1970 757L1984 937L1987 1009L1967 1291L1989 1519L1990 1585L1987 1585L1965 1585L1954 1465L1931 1297L1941 1063L1942 907L1938 745L1953 535L1957 511L1966 487L2034 379L2071 301L2096 235L2138 103L2141 85L2143 85ZM2797 791L2815 788L2833 790L2971 835L3001 840L3001 847L2977 844L2851 803L2821 795L2809 795L2797 798L2779 810L2754 841L2737 871L2730 895L2731 913L2736 925L2746 937L2798 985L2821 1002L2852 1015L2959 1051L2983 1057L3001 1059L3001 1064L2965 1057L2827 1010L2803 995L2767 963L2727 931L2720 919L2718 907L2721 889L2728 871L2746 841L2767 814L2782 799L2797 791Z" fill="#1cd1e2" stroke="#1cd1e2" stroke-width="1" fill-rule="evenodd"/>
<path d="M2107 85L2141 85L2138 103L2095 239L2071 301L2044 361L1963 493L1956 517L1952 541L1938 745L1942 907L1941 1069L1931 1291L1933 1327L1953 1453L1962 1549L1965 1585L1957 1585L1934 1585L1921 1485L1896 1345L1892 1297L1883 973L1898 745L1914 571L1920 517L1931 481L2011 325L2062 205L2102 97L2105 85L2107 85ZM2797 798L2815 795L2833 797L2968 841L3001 847L3001 854L2977 851L2827 803L2803 803L2785 813L2766 835L2748 865L2741 889L2740 907L2747 925L2757 937L2799 979L2821 996L2850 1009L2957 1045L2983 1052L3001 1054L3001 1059L2971 1054L2852 1015L2827 1005L2798 985L2740 931L2733 919L2730 907L2731 889L2737 871L2750 847L2767 823L2785 805L2797 798Z" fill="#22d6e0" stroke="#22d6e0" stroke-width="1" fill-rule="evenodd"/>
<path d="M2059 85L2105 85L2104 91L2065 198L2011 325L1991 367L1942 457L1929 487L1918 529L1908 631L1888 895L1883 1009L1893 1321L1922 1489L1934 1579L1934 1585L1921 1585L1879 1585L1879 1537L1853 1405L1850 1369L1848 1249L1838 1093L1827 973L1828 895L1878 535L1885 499L1915 422L1963 320L2034 157L2049 115L2055 85L2059 85ZM2803 803L2815 802L2833 804L2965 847L3001 854L3001 861L2977 858L2827 810L2809 810L2791 818L2775 835L2760 859L2752 883L2751 907L2754 919L2767 937L2803 975L2824 991L2849 1003L2956 1039L2983 1046L3001 1049L3001 1054L2977 1051L2833 1002L2803 983L2752 931L2744 919L2740 907L2741 889L2746 871L2758 847L2775 823L2791 809L2803 803Z" fill="#28dbde" stroke="#28dbde" stroke-width="1" fill-rule="evenodd"/>
<path d="M2011 85L2055 85L2053 103L2034 157L1963 320L1915 422L1885 499L1878 535L1829 889L1826 967L1838 1093L1848 1255L1851 1387L1856 1423L1880 1549L1879 1585L1855 1585L1825 1585L1822 1561L1805 1477L1803 1429L1809 1309L1808 1261L1798 1135L1778 997L1769 901L1764 835L1765 787L1775 739L1819 609L1844 493L1881 373L1891 349L1933 274L1957 223L1999 127L2004 109L2006 85L2011 85ZM2809 810L2833 812L2965 855L3001 861L3001 870L2977 866L2827 819L2809 819L2797 824L2781 841L2768 865L2762 889L2762 907L2769 925L2783 943L2811 973L2833 988L2869 1003L2959 1033L2983 1040L3001 1042L3001 1049L2976 1045L2835 997L2807 979L2762 931L2754 919L2751 907L2751 889L2755 871L2767 847L2779 829L2792 817L2809 810Z" fill="#2ddfdc" stroke="#2ddfdc" stroke-width="1" fill-rule="evenodd"/>
<path d="M1969 85L2006 85L2001 121L1945 250L1921 297L1891 349L1881 373L1844 493L1819 609L1775 739L1765 787L1764 835L1769 901L1778 997L1798 1135L1808 1261L1809 1309L1804 1411L1804 1459L1808 1495L1822 1561L1825 1585L1813 1585L1765 1585L1755 1537L1754 1489L1766 1339L1768 1285L1762 1213L1753 1159L1735 1106L1723 1087L1723 630L1735 625L1750 607L1780 529L1789 493L1801 391L1813 355L1830 325L1891 239L1915 201L1959 115L1969 85ZM2803 821L2815 818L2833 820L2965 863L3001 870L3001 881L2983 879L2833 832L2815 830L2803 834L2791 847L2782 865L2776 889L2776 907L2780 919L2792 937L2815 963L2833 977L2864 991L2953 1021L3001 1032L3001 1042L2980 1039L2869 1003L2827 985L2799 961L2769 925L2763 913L2761 895L2766 871L2773 853L2785 835L2803 821Z" fill="#33e3d9" stroke="#33e3d9" stroke-width="1" fill-rule="evenodd"/>
<path d="M1915 85L1968 85L1964 103L1933 168L1909 211L1830 325L1810 361L1799 403L1785 511L1765 571L1750 607L1735 625L1723 630L1723 343L1735 337L1747 327L1789 277L1885 144L1904 109L1911 85L1915 85ZM2803 834L2815 830L2833 832L2965 875L3001 881L3001 1032L2977 1028L2848 985L2827 973L2803 950L2783 925L2777 913L2776 901L2778 877L2784 859L2791 847L2803 834ZM1728 1093L1741 1121L1753 1159L1759 1195L1766 1261L1767 1321L1754 1513L1756 1543L1765 1585L1723 1585L1723 1087L1728 1093Z" fill="#39e7d7" stroke="#39e7d7" stroke-width="1" fill-rule="evenodd"/>
<path d="M1849 85L1911 85L1904 109L1892 133L1873 161L1789 277L1759 314L1741 332L1723 343L1723 243L1735 241L1747 235L1766 217L1831 127L1840 109L1844 85L1849 85Z" fill="#3eebd5" stroke="#3eebd5" stroke-width="1" fill-rule="evenodd"/>
<path d="M1795 85L1844 85L1841 103L1834 121L1825 136L1771 211L1755 229L1741 239L1723 243L1723 180L1729 177L1741 165L1787 103L1795 85Z" fill="#44eed2" stroke="#44eed2" stroke-width="1" fill-rule="evenodd"/>
<path d="M1729 85L1795 85L1787 103L1753 148L1735 172L1723 180L1723 85L1729 85Z" fill="#4af1d0" stroke="#4af1d0" stroke-width="1" fill-rule="evenodd"/>
<g fill="none" stroke="#1c92f3" stroke-width="9" stroke-linejoin="miter">
<polygon points="1985,503 2014.5,503 2014.5,511 2021,511 2021,524 2029,524 2029,540 2035.6,540 2035.6,555 2052,555 2052,563 2058,563 2058,571 2066.5,571 2066.5,594 2073,594 2073,646 2066.5,646 2066.5,660 2073,660 2073,704 2066.5,704 2066.5,720 2073,720 2073,733 2081,733 2081,750 2089,750 2089,756 2097,756 2097,772 2104,772 2104,788 2112,788 2112,808 2118.4,808 2118.4,837 2126.5,837 2126.5,870 2133,870 2133,891 2141,891 2141,912 2156,912 2156,934.5 2164,934.5 2164,944 2172,944 2172,957 2185,957 2185,967 2194.7,967 2194.7,972.7 2223,972.7 2223,996 2231,996 2231,1011.6 2238.7,1011.6 2238.7,1022.3 2252.3,1022.3 2252.3,1033 2178.3,1033 2178.3,1040 2163.7,1040 2163.7,1055 2149,1055 2149,1070 2156,1070 2156,1092.6 2163.7,1092.6 2163.7,1108 2171,1108 2171,1115 2178.3,1115 2178.3,1130 2186,1130 2186,1145 2223,1145 2223,1152 2186,1152 2186,1174.3 2156,1174.3 2156,1167.5 2125.7,1167.5 2125.7,1160 2103.7,1160 2103.7,1152 2096.9,1152 2096.9,1084.7 2088.7,1084.7 2088.7,1070 2082,1070 2082,1026 2074,1026 2074,1011.6 2066.3,1011.6 2066.3,996 2059.5,996 2059.5,979.5 2051.7,979.5 2051.7,966 2043.8,966 2043.8,934.5 2037,934.5 2037,920 2029,920 2029,868 2022.6,868 2022.6,832 2029,832 2029,801 2021,801 2021,787 2014.5,787 2014.5,772 2008,772 2008,764 2000,764 2000,757.6 1992,757.6 1992,727 1985,727 1985,712 1970.7,712 1970.7,696 1977,696 1977,675 1970.7,675 1970.7,652 1954.5,652 1954.5,623 1961,623 1961,511 1985,511"/>
<polyline points="2700,88 2700,108 2693,108 2693,130 2715,130 2715,212 2708,212 2708,242 2701,242 2701,264 2693,264 2693,280 2686,280 2686,294 2678,294 2678,302 2671,302 2671,309 2664,309 2664,317 2649,317 2649,324 2626,324 2626,332 2604,332 2604,339 2574,339 2574,347 2552,347 2552,354 2567,354 2567,362 2588,362 2588,354 2678,354 2678,362 2701,362 2701,369 2708,369 2708,377 2731,377 2731,384 2738,384 2738,421 2745,421 2745,480 2731,480 2731,488 2738,488 2738,512 2731,512 2731,540 2716,540 2716,563 2723,563 2723,571 2745,571 2745,585 2753,585 2753,593 2774,593 2774,623 2782,623 2782,645 2789,645 2789,660 2797,660 2797,682 2805,682 2805,705 2812,705"/>
<polyline points="2678,1003 2671,1003 2671,1018 2664,1018 2664,1033 2671,1033 2671,1040 2678,1040 2678,1055 2686,1055 2686,1085 2678,1085 2678,1100 2693,1100 2693,1151 2686,1151 2686,1174 2678,1174 2678,1182 2670,1182 2670,1205 2664,1205 2656,1220 2648,1228 2642,1234 2634,1242 2626,1250 2618,1257 2611,1272 2604,1280 2596,1287 2589,1294 2581,1302 2574,1309 2566,1316 2560,1324 2552,1331 2538,1339 2530,1346 2522,1354 2508,1361 2500,1369 2485,1377 2477,1385 2463,1391 2447,1399 2382,1405 2327,1398 2276,1398 2261,1391 2261,1384 2247,1376 2247,1361 2238,1353 2238,1346 2179,1346 2179,1339 2156,1339 2156,1316 2149,1316 2149,1323 2134,1323 2134,1369 2194,1369 2194,1376 2200,1376 2200,1398 2215,1398 2215,1406 2237,1406 2237,1421 2246,1421 2246,1428 2252,1428 2252,1443 2261,1443 2261,1458 2268,1458 2268,1583"/>
</g>
<g fill="#a9a9a9">
<polygon points="1985,503 2014.5,503 2014.5,511 2021,511 2021,524 2029,524 2029,540 2035.6,540 2035.6,555 2052,555 2052,563 2058,563 2058,571 2066.5,571 2066.5,594 2073,594 2073,646 2066.5,646 2066.5,660 2073,660 2073,704 2066.5,704 2066.5,720 2073,720 2073,733 2081,733 2081,750 2089,750 2089,756 2097,756 2097,772 2104,772 2104,788 2112,788 2112,808 2118.4,808 2118.4,837 2126.5,837 2126.5,870 2133,870 2133,891 2141,891 2141,912 2156,912 2156,934.5 2164,934.5 2164,944 2172,944 2172,957 2185,957 2185,967 2194.7,967 2194.7,972.7 2223,972.7 2223,996 2231,996 2231,1011.6 2238.7,1011.6 2238.7,1022.3 2252.3,1022.3 2252.3,1033 2178.3,1033 2178.3,1040 2163.7,1040 2163.7,1055 2149,1055 2149,1070 2156,1070 2156,1092.6 2163.7,1092.6 2163.7,1108 2171,1108 2171,1115 2178.3,1115 2178.3,1130 2186,1130 2186,1145 2223,1145 2223,1152 2186,1152 2186,1174.3 2156,1174.3 2156,1167.5 2125.7,1167.5 2125.7,1160 2103.7,1160 2103.7,1152 2096.9,1152 2096.9,1084.7 2088.7,1084.7 2088.7,1070 2082,1070 2082,1026 2074,1026 2074,1011.6 2066.3,1011.6 2066.3,996 2059.5,996 2059.5,979.5 2051.7,979.5 2051.7,966 2043.8,966 2043.8,934.5 2037,934.5 2037,920 2029,920 2029,868 2022.6,868 2022.6,832 2029,832 2029,801 2021,801 2021,787 2014.5,787 2014.5,772 2008,772 2008,764 2000,764 2000,757.6 1992,757.6 1992,727 1985,727 1985,712 1970.7,712 1970.7,696 1977,696 1977,675 1970.7,675 1970.7,652 1954.5,652 1954.5,623 1961,623 1961,511 1985,511"/>
<polygon points="2700,88 2700,108 2693,108 2693,130 2715,130 2715,212 2708,212 2708,242 2701,242 2701,264 2693,264 2693,280 2686,280 2686,294 2678,294 2678,302 2671,302 2671,309 2664,309 2664,317 2649,317 2649,324 2626,324 2626,332 2604,332 2604,339 2574,339 2574,347 2552,347 2552,354 2567,354 2567,362 2588,362 2588,354 2678,354 2678,362 2701,362 2701,369 2708,369 2708,377 2731,377 2731,384 2738,384 2738,421 2745,421 2745,480 2731,480 2731,488 2738,488 2738,512 2731,512 2731,540 2716,540 2716,563 2723,563 2723,571 2745,571 2745,585 2753,585 2753,593 2774,593 2774,623 2782,623 2782,645 2789,645 2789,660 2797,660 2797,682 2805,682 2805,705 2812,705 2812,749 2805,749 2805,802 2797,802 2797,818 2789,818 2789,846 2782,846 2782,862 2775,862 2767,876 2761,892 2753,899 2745,907 2738,914 2731,929 2723,936 2723,944 2716,951 2708,959 2701,966 2693,974 2686,981 2678,988 2678,1003 2671,1003 2671,1018 2664,1018 2664,1033 2671,1033 2671,1040 2678,1040 2678,1055 2686,1055 2686,1085 2678,1085 2678,1100 2693,1100 2693,1151 2686,1151 2686,1174 2678,1174 2678,1182 2670,1182 2670,1205 2664,1205 2656,1220 2648,1228 2642,1234 2634,1242 2626,1250 2618,1257 2611,1272 2604,1280 2596,1287 2589,1294 2581,1302 2574,1309 2566,1316 2560,1324 2552,1331 2538,1339 2530,1346 2522,1354 2508,1361 2500,1369 2485,1377 2477,1385 2463,1391 2447,1399 2382,1405 2327,1398 2276,1398 2261,1391 2261,1384 2247,1376 2247,1361 2238,1353 2238,1346 2179,1346 2179,1339 2156,1339 2156,1316 2149,1316 2149,1323 2134,1323 2134,1369 2194,1369 2194,1376 2200,1376 2200,1398 2215,1398 2215,1406 2237,1406 2237,1421 2246,1421 2246,1428 2252,1428 2252,1443 2261,1443 2261,1458 2268,1458 2268,1583 2998,1583 2998,88"/>
<rect x="2709" y="466" width="7" height="8"/>
<rect x="2701" y="474" width="22" height="6"/>
<rect x="2693" y="488" width="8" height="8"/>
<rect x="2686" y="496" width="7" height="8"/>
<rect x="2686" y="518" width="7" height="14"/>
<rect x="2693" y="540" width="8" height="8"/>
</g>
<polyline points="2264.5,1197 2272,1206 2279,1215 2279,1240 2272,1250 2268,1262 2264.5,1275 2257,1297 2249.5,1316" fill="none" stroke="#a9a9a9" stroke-width="7.5"/>
<rect x="2014.7" y="518" width="14" height="8" fill="#5e35fe"/><rect x="2022" y="526" width="7" height="7" fill="#632cfe"/><rect x="2022" y="533" width="15" height="7" fill="#4757fb"/><rect x="2037" y="556" width="15" height="7" fill="#4757fb"/><rect x="2029" y="548" width="15" height="8" fill="#3078f7"/><rect x="2035.6" y="555" width="16" height="8" fill="#4757fb"/><rect x="2066.5" y="649" width="14.5" height="9.6" fill="#4c4ffc"/><rect x="2081" y="749.5" width="8" height="6.5" fill="#6923fe"/><rect x="2118" y="860" width="7" height="12" fill="#5e35fe"/><rect x="2125" y="872" width="14.5" height="12" fill="#583efd"/><rect x="2147.6" y="913" width="8.2" height="15" fill="#5e35fe"/><rect x="2149" y="1062" width="7" height="8" fill="#4757fb"/><rect x="2186" y="1129.5" width="15" height="15.5" fill="#4757fb"/><rect x="2156" y="1323" width="23" height="16" fill="#4757fb"/><rect x="2170.6" y="1369" width="23.4" height="7" fill="#7a09ff"/><rect x="2186" y="1376" width="15" height="8" fill="#6923fe"/><rect x="2216" y="1399" width="22" height="16" fill="#4c4ffc"/><rect x="2230" y="1407" width="8" height="14" fill="#632cfe"/><rect x="2261" y="1458" width="7" height="15.5" fill="#4757fb"/><rect x="2261" y="1496" width="7" height="13" fill="#6e1bff"/><rect x="2252.5" y="1510" width="8.5" height="7" fill="#6e1bff"/>
<rect x="1729" y="91" width="2" height="1489" fill="#a9a9a9"/>
<path d="M1877 91V1580M2063.4 91V1580M2249.8 91V1580M2436.2 91V1580M2622.6 91V1580M2809 91V1580M1729 275.9H2995M1729 462.4H2995M1729 648.9H2995M1729 835.4H2995M1729 1021.9H2995M1729 1208.4H2995M1729 1394.9H2995" stroke="#000" stroke-opacity="0.35" stroke-width="2.1" stroke-dasharray="7.7 3.3" fill="none"/>
<rect x="1729" y="91" width="1266" height="2" fill="#fff"/>
<path d="M1741 209L1777 157L1792 133L1805 108M1741 262L1752 242L1791 184L1805 160L1819 134L1831 108M1949 562L1906 532L1883 518L1860 506L1813 484L1790 471L1780 463L1770 454L1761 444L1754 432L1749 418L1748 403L1750 374L1756 330L1763 301L1768 288L1781 262L1810 213L1830 176L1842 149L1856 108M1762 374L1770 330L1778 302L1791 276L1820 228L1840 190L1856 150L1869 108M1828 242L1843 217L1860 178L1870 150L1882 108M1788 449L1782 436L1778 422L1778 408L1781 378L1788 350L1792 336L1797 322L1804 309L1811 297L1845 253L1860 229L1867 217L1884 177L1907 108M1799 340L1805 326L1812 314L1819 302L1864 249L1879 226L1892 200L1921 134L1933 108M1895 219L1936 144L1959 108M1816 329L1824 317L1833 306L1871 267L1889 246L1905 223L1934 175L1950 151L1984 108M1869 285L1898 256L1916 234L1958 179L2023 108M1910 260L1974 189L2022 140L2040 119L2048 108M1886 512L1844 480L1834 471L1825 460L1819 447L1815 433L1814 419L1815 404L1818 390L1823 376L1828 362L1835 350L1843 339L1852 329L1862 319L1904 286L1924 268L2040 152L2058 131L2074 108M1838 465L1832 452L1827 438L1826 424L1828 409L1831 395L1836 381L1842 368L1850 357L1859 346L1869 337L1921 295L1962 260L2059 165L2077 144L2085 133L2099 108M1845 447L1843 433L1844 418L1848 404L1853 391L1860 378L1868 367L1888 348L1940 307L1971 280L2001 253L2039 214L2089 168L2098 158L2106 147L2113 134L2125 108M2075 198L2095 180L2105 170L2113 160L2121 148L2128 135L2138 108M1903 508L1887 485L1881 472L1877 458L1875 443L1877 429L1881 415L1888 402L1896 391L1915 371L1965 327L2045 253L2065 235L2108 203L2128 185L2137 174L2144 163L2151 150L2156 136L2163 108M1904 494L1898 480L1894 466L1894 451L1895 437L1900 423L1907 410L1915 399L1924 389L1943 369L2053 269L2085 245L2129 216L2140 208L2150 199L2158 188L2166 177L2173 164L2182 137L2189 108M2047 292L2068 276L2090 261L2147 229L2158 221L2168 211L2177 201L2185 189L2191 177L2202 150L2214 108M1950 546L1941 536L1933 524L1926 512L1920 499L1916 484L1915 470L1916 455L1920 441L1926 428L1933 416L1951 395L1980 366L2020 330L2052 305L2073 290L2096 276L2143 254L2165 241L2176 233L2186 224L2195 213L2203 202L2216 177L2227 150L2240 108M2114 279L2150 264L2173 252L2184 245L2194 236L2204 227L2213 216L2220 204L2232 178L2246 137L2253 108M1941 526L1935 512L1931 498L1929 484L1930 469L1933 455L1939 442L1946 429L1954 418L1963 407L1982 388L2002 370L2023 353L2045 338L2067 324L2090 312L2114 301L2175 280L2198 270L2210 264L2221 256L2230 247L2239 236L2246 224L2251 210L2255 196L2262 152L2266 108M2670 108L2648 132L2628 150L2618 158L2595 172L2571 182L2546 188L2521 191L2395 195L2369 193L2344 188L2332 184L2321 178L2310 170L2301 161L2293 149L2287 136L2278 108M2603 108L2580 121L2556 131L2531 139L2519 142L2494 146L2443 149L2405 153L2380 154L2368 153L2355 152L2343 148L2331 144L2319 137L2309 129L2299 120L2291 108M2551 108L2526 117L2501 123L2438 128L2400 133L2375 135L2362 134L2350 132L2338 128L2326 123L2314 116L2304 108M2447 108L2379 116L2367 116L2354 115L2342 112L2330 108M2637 108L2616 124L2593 138L2570 149L2545 157L2533 160L2508 164L2444 167L2394 171L2369 170L2356 168L2344 164L2332 160L2320 154L2310 146L2300 136L2292 124M2688 108L2661 140L2633 169L2612 186L2600 193L2589 198L2577 203L2552 208L2514 211L2413 212L2375 210M2253 1578L2247 1549L2238 1521L2232 1508L2225 1496L2217 1485L2198 1465L2157 1430L2107 1384L2086 1367L2064 1353L2040 1343L2016 1335L1979 1327L1941 1320L1916 1318L1891 1316L1802 1314L1777 1312L1741 1307M2240 1578L2231 1550L2219 1524L2212 1512L2194 1491L2106 1406L2085 1389L2063 1375L2051 1370L2027 1361L1989 1354L1901 1341L1876 1338L1825 1336L1800 1334L1788 1332L1763 1326M2227 1578L2222 1565L2208 1539L2201 1528L2183 1506L2135 1458L2105 1430L2084 1414L2062 1401L2037 1392L2013 1386L1950 1379L1887 1369L1836 1364L1811 1360L1787 1354L1741 1334M2214 1578L2208 1565L2192 1542L2175 1520L2156 1500L2127 1472L2107 1453L2086 1437L2063 1425L2051 1420L2027 1413L2001 1410L1963 1406L1938 1402L1876 1389L1826 1380L1801 1373M2189 1578L2164 1545L2146 1524L2127 1504L2096 1478L2074 1463L2062 1457L2038 1449L2013 1444L1963 1437L1938 1432L1827 1399L1803 1390L1792 1385L1769 1372L1741 1354M2163 1578L2137 1545L2109 1515L2089 1498L2067 1484L2055 1478L2031 1469L2006 1463L1956 1454L1931 1447L1846 1417L1810 1403M2138 1578L2111 1546L2092 1527L2071 1510L2049 1496L2037 1491L2013 1482L1939 1462L1902 1449M2112 1578L2085 1547L2065 1529L2043 1514L2032 1507L2008 1496M2086 1578L2068 1558L2048 1540L2027 1524L2015 1516L2004 1510L1981 1499L1920 1476L1896 1466L1826 1433L1803 1420L1781 1406L1741 1374M2061 1578L2032 1549L2011 1532L2001 1524L1978 1511M2035 1578L2016 1558L1997 1540L1975 1524L1952 1511L1881 1479L1835 1455L1790 1428L1758 1404M2010 1578L1991 1558L1971 1540L1949 1525L1926 1512M1984 1578L1965 1558L1955 1550L1933 1535L1910 1523L1851 1496L1816 1479L1770 1454L1741 1434M1959 1578L1938 1561L1927 1553L1904 1541L1880 1532L1741 1485M1933 1578L1910 1565L1898 1560L1874 1552L1786 1536L1741 1531M1895 1578L1870 1572L1845 1569L1781 1563L1741 1563M1856 1578L1780 1572L1741 1572M2260 1520L2256 1506L2250 1493L2243 1481L2235 1470L2225 1460L2215 1451L2172 1419L2121 1375L2100 1359L2078 1344L2055 1332L2031 1323L2006 1316L1969 1308L1944 1305L1906 1303L1804 1303L1741 1299M2128 1317L2103 1309L2055 1290L2031 1282L1994 1273L1968 1269L1956 1268L1930 1269L1855 1277L1741 1284M2211 1044L2223 1070L2237 1112L2242 1141L2243 1156L2242 1170L2240 1185L2236 1199L2231 1213L2224 1225L2217 1237L2208 1248L2198 1257L2188 1265L2176 1271L2164 1275L2152 1278L2139 1278L2126 1278L2114 1275L2089 1269L2029 1247L2004 1239L1979 1234L1954 1232L1929 1235L1867 1249L1791 1259L1741 1269M2230 1117L2232 1132L2233 1147L2233 1161L2230 1176L2226 1190L2220 1203L2213 1215L2205 1226L2195 1236L2184 1244L2173 1250L2161 1254L2148 1256L2136 1257L2123 1256L2110 1254L2086 1247L2002 1214L1977 1207L1952 1204L1939 1205L1914 1209L1853 1227L1790 1240L1741 1253M2202 1211L2193 1221L2182 1229L2170 1235L2158 1239L2146 1241L2133 1242L2121 1241L2108 1238L2084 1231L2012 1201L1988 1192L1963 1185L1951 1184L1938 1184L1925 1185L1901 1190L1852 1207L1778 1226L1741 1238M2170 1222L2158 1226L2145 1229L2132 1229L2120 1228L2107 1226L2095 1222L2071 1214L2012 1187L1988 1177L1963 1170L1951 1169L1938 1168L1925 1169L1900 1174L1839 1194L1778 1211L1741 1222M2190 1175L2181 1185L2170 1193L2159 1199L2147 1202L2134 1204L2121 1204L2096 1199L2072 1191L2001 1159L1977 1151L1952 1146L1927 1145L1914 1146L1889 1150L1815 1172L1741 1191M1877 1141L1741 1176M2138 1169L2125 1171L2112 1171L2100 1170L2087 1167L2063 1159L2015 1139L1991 1131L1966 1126L1941 1124L1903 1125L1865 1130L1828 1139L1741 1160M2089 1150L2065 1143L2028 1130L2004 1122L1979 1116L1941 1113L1891 1114L1853 1119L1803 1129L1741 1145M2092 1117L2067 1113L2018 1100L1993 1096L1967 1094L1879 1092L1841 1093L1815 1096L1778 1104L1741 1114M2018 1089L1980 1085L1930 1084L1866 1080L1841 1080L1803 1084L1778 1089L1741 1098M1930 1075L1867 1069L1829 1068L1791 1072L1741 1083M2068 1072L2018 1064L1930 1058L1854 1045L1829 1043L1791 1044L1766 1047L1741 1052M2067 1058L2017 1050L1966 1046L1941 1044L1916 1039L1854 1023L1817 1016L1791 1015L1779 1016L1741 1021M1854 1011L1817 1003L1791 1001L1766 1002L1741 1005M1841 996L1817 990L1791 986L1766 987L1741 990M2074 1034L2024 1025L1974 1017L1949 1011L1912 998L1841 968L1816 960L1804 957L1779 955L1766 956L1741 959M2010 1013L1972 1005L1948 997L1924 988L1853 956L1829 947L1816 943L1791 939L1779 939L1766 940L1741 944M1984 995L1947 981L1865 943L1829 929L1804 924L1791 923L1766 924L1741 928M2056 1005L1971 975L1889 935L1853 920L1829 912L1804 907L1791 907L1766 908L1741 913M2018 981L1982 965L1925 935L1901 923L1865 908L1841 900L1817 893L1791 891L1766 893L1741 897M1971 945L1937 925L1913 913L1878 898L1841 885L1817 879L1791 877L1766 878L1741 882M1842 870L1817 865L1792 863L1766 864L1741 866M2036 962L1971 916L1949 901L1926 888L1891 873L1854 860L1829 854L1817 852L1792 850L1741 851M2034 949L1983 906L1962 889L1939 876L1915 865L1867 849L1830 840L1804 837L1741 835M2014 910L1985 882L1964 866L1941 853L1917 844L1880 834L1842 826L1817 824L1741 820M2016 882L1997 862L1977 845L1954 831L1930 822L1893 814L1855 809L1830 808L1779 807L1741 804M2008 844L1988 826L1966 810L1955 804L1943 799L1918 793L1893 790L1868 789L1779 791L1741 789M2016 833L1997 813L1987 804L1966 788L1954 782L1943 776L1930 772L1918 770L1893 767L1867 767L1792 774L1766 775L1741 773M2005 806L1986 787L1965 770L1954 763L1942 757L1930 753L1918 751L1893 748L1867 748L1842 751L1792 758L1766 759L1741 758M1986 773L1965 755L1954 748L1942 742L1930 738L1905 734L1893 733L1867 733L1779 743L1741 742M1842 722L1779 728L1741 727M1986 747L1976 738L1966 729L1955 722L1943 717L1931 713L1918 711L1905 709L1880 708L1855 708L1779 713L1741 711M1966 715L1955 708L1943 703L1931 699L1906 695L1868 694L1779 697L1741 696M1967 695L1955 689L1943 685L1931 681L1906 678L1880 677L1855 677L1741 681M1967 669L1955 664L1931 658L1918 656L1893 655L1829 657L1741 665M1942 634L1930 632L1905 630L1867 632L1816 637L1741 650M1954 616L1929 611L1917 610L1891 610L1866 611L1828 615L1803 620L1741 634M1904 594L1866 595L1828 599L1790 606L1741 619M1854 583L1803 589L1778 594L1741 603M1954 582L1930 574L1905 567L1893 565L1867 562L1842 562L1817 564L1779 567L1741 572M1917 558L1892 549L1880 546L1855 543L1817 541L1741 541M1842 532L1741 526M1866 522L1828 512L1741 495M1741 340L1746 311L1749 297L1759 269L1773 244L1803 197L1817 172M2653 108L2626 132L2605 147L2593 154L2581 159L2557 168L2545 171L2520 175M1837 1506L1777 1480L1741 1463M1832 1473L1797 1453L1775 1439L1754 1423L1741 1412M1741 235L1786 170L1801 146L1814 121M2015 265L2054 227L2106 184L2115 175L2124 164L2131 152L2138 139M2684 133L2657 165L2638 184L2618 202L2607 209L2595 216L2583 220L2571 224L2546 228L2508 229L2445 228L2394 226L2356 221L2332 214L2320 209L2309 202L2299 192L2292 180L2286 167L2281 153L2278 139M2701 139L2665 182L2637 212L2617 228L2605 235L2593 240L2581 244L2569 247L2544 250L2506 251L2468 250L2430 247L2379 241L2354 236L2330 229M2709 143L2674 186L2647 217L2626 235L2615 242M1843 1532L1782 1515L1741 1506M2371 252L2346 246L2334 242L2322 237L2311 231L2301 222L2293 211L2286 198L2282 184L2278 170M1836 484L1815 468L1806 457L1799 446L1794 432L1792 417L1793 403L1795 388L1802 360M2166 295L2191 288L2215 278L2226 272L2237 264L2247 254L2254 243L2259 229L2263 215L2266 185M2710 175L2674 217L2655 236L2634 253L2623 260L2611 266L2599 270L2574 276L2549 278L2498 281L2486 283L2473 286L2467 290L2467 293L2474 306L2478 319L2477 333L2472 343L2464 351L2452 354L2440 352L2429 346L2409 328L2399 319L2387 313L2339 294L2328 288L2317 280L2308 270L2300 259L2293 246L2287 233L2279 205M1805 433L1804 418L1805 404L1807 389L1815 361L1821 348L1828 336L1837 325L1856 305L1876 287M2710 206L2682 236L2662 255L2641 271L2629 277L2606 287L2581 293L2556 296L2518 298L2505 301L2494 307L2489 316M1943 506L1942 491L1943 476L1947 462L1952 449L1960 437L1977 416L2007 388L2028 372L2050 357L2074 346L2098 336L2122 328L2147 321L2209 310L2234 304L2246 300L2258 295L2268 287L2276 275L2280 261L2280 246L2278 232M2253 1454L2232 1438L2187 1410L2144 1378M2097 1462L2075 1447L2064 1442L2039 1433L2014 1428L1964 1423L1939 1419M2427 321L2425 309L2421 299L2411 291L2399 286L2349 272L2337 268L2325 263L2314 256L2304 247M2701 247L2681 266L2660 282L2649 290L2626 301L2614 306L2589 312L2564 316L2526 319L2513 322L2502 328L2492 337M1893 507L1875 486L1867 475L1860 462L1856 448L1855 434L1857 419L1861 405L1868 392L1875 381L1884 370L1904 352L1946 319L1977 292M2176 263L2198 249L2209 240L2218 230L2226 219L2233 207L2244 180L2255 137M2181 329L2219 326L2244 323L2269 317L2281 312L2290 304L2295 291L2294 277L2291 263M2438 306L2444 291L2441 285L2430 279L2405 271L2356 260M2583 261L2571 264L2546 266L2470 268L2444 265L2407 258M2044 1299L2020 1292L1995 1286L1957 1280L1945 1279L1920 1280L1869 1284M2030 1040L1967 1033L1942 1029L1918 1022L1869 1005M1957 516L1956 501L1958 487L1962 473L1968 460L1976 448L1994 427L2014 409L2035 393L2058 380L2081 369L2118 357L2155 348L2180 346L2193 346L2231 350L2256 351L2281 348L2294 345L2306 341L2315 335L2322 327L2323 316L2318 303L2304 278M2675 294L2653 309L2642 315L2630 321L2606 329L2594 333L2568 337L2518 342L2506 346L2483 357L2471 362L2458 364M2229 982L2240 991L2249 1001L2257 1012L2264 1024L2284 1063L2292 1074L2302 1082L2314 1088L2324 1095L2333 1106L2337 1120L2337 1135L2336 1164L2338 1209L2336 1268L2338 1283L2341 1297L2345 1311L2350 1324L2358 1336L2366 1347L2376 1357L2386 1366L2397 1373L2408 1380L2420 1385L2445 1392M2329 1134L2319 1161L2317 1176L2316 1205L2307 1263L2303 1308L2298 1321L2292 1334L2289 1345L2291 1357L2299 1365L2310 1368L2321 1365L2331 1357L2339 1348L2343 1348L2353 1357L2372 1376L2383 1385L2394 1392M2309 1169L2305 1213L2293 1271L2287 1315L2282 1343L2284 1358L2290 1371L2304 1392M2221 367L2246 372L2259 374L2284 374L2309 370L2322 367L2333 361L2342 355L2348 345L2346 331L2338 320L2330 309M2684 477L2622 464L2609 463L2584 465L2534 471L2508 471L2496 470L2471 466L2458 463L2446 458L2438 453L2432 445L2430 435L2434 421L2439 408L2441 394L2437 381L2429 370L2399 343L2377 328L2342 309M2349 1269L2352 1284L2356 1297L2362 1311L2370 1323L2378 1333L2388 1343L2398 1351L2409 1358L2421 1364L2445 1373L2470 1377M2008 1254L1983 1249L1958 1247L1932 1249L1895 1256M2009 957L1942 915L1907 897M1907 479L1905 465L1906 450L1910 436L1916 423L1923 411L1931 400L1950 380L1970 361M2216 336L2254 335L2279 329L2291 325L2302 317L2306 308L2306 297L2303 287M1974 509L1977 495L1982 482L1989 469L1998 458L2007 448L2017 439L2038 422L2060 408L2072 402L2156 371L2168 368L2181 367L2193 370L2205 377L2225 394L2236 401L2248 405L2260 407L2286 410L2311 409L2324 408L2336 405L2348 401L2360 395L2371 388L2380 378L2385 368L2383 354L2376 342L2366 333L2355 325M2348 1154L2355 1198L2361 1256L2364 1271L2368 1285L2374 1298L2382 1310L2390 1320L2400 1330L2411 1338L2422 1345L2434 1350L2458 1358L2471 1360L2496 1361M2282 1259L2273 1303L2266 1361L2261 1375M2793 814L2768 810L2759 805L2753 800L2749 791L2753 778L2760 765L2776 743L2803 711M2795 810L2782 806L2774 801L2768 795L2766 785L2770 772L2777 759L2785 748L2803 727M2364 1201L2371 1245L2375 1259L2380 1273L2386 1286L2394 1298L2402 1308L2412 1317L2423 1325L2434 1332L2446 1337L2471 1344L2483 1346L2509 1346M2123 1353L2101 1339L2078 1326L2054 1316L2030 1307M2242 387L2267 391L2293 392L2318 389L2330 386L2342 382L2354 376L2362 368L2368 356M2202 385L2209 397L2215 418L2221 425L2232 431L2257 437L2270 438L2283 438L2295 437L2320 431L2344 422L2367 410L2378 403L2388 393L2395 383L2398 369L2394 356M2681 759L2678 768L2670 774L2658 774L2649 769L2644 760L2644 748L2652 739L2663 736L2674 739L2683 747L2691 758L2694 765L2697 770L2707 769L2718 763L2729 755L2748 736L2766 714L2790 681M2739 807L2733 799L2733 790L2739 777L2764 743L2799 701M2390 1265L2397 1277L2405 1288L2414 1299L2424 1307L2435 1315L2447 1321L2459 1325L2471 1329L2484 1331L2496 1332L2522 1330L2546 1325M2331 1177L2332 1207L2327 1266L2328 1281L2333 1321L2332 1327L2330 1330L2318 1330L2308 1332L2299 1337M2265 1230L2245 1284L2232 1310L2224 1321L2214 1330L2203 1337L2191 1340M2584 473L2559 478L2534 482L2522 483L2496 482L2471 479L2446 474L2422 466L2410 460L2403 455L2399 446L2400 436L2414 411L2421 399L2423 385L2419 371M2604 456L2567 448L2555 445L2544 441L2537 435L2531 427L2530 413L2531 401L2529 390L2520 380L2508 375L2496 372L2470 371M2562 439L2557 432L2556 422L2561 409L2571 389L2570 381L2559 374L2547 371L2522 367M2569 436L2568 428L2574 415L2582 404L2602 385L2613 377L2624 371L2636 367L2661 361M2583 434L2587 425L2596 415L2616 398L2627 391L2651 380L2687 367M2777 634L2765 634L2753 635L2691 650L2666 654L2653 655L2628 654L2603 650L2565 643L2491 626L2466 622L2453 621L2440 620L2415 621L2352 628L2289 629L2264 633L2251 637L2240 642L2229 650L2220 660L2217 671L2218 679L2224 683L2231 685L2241 686L2253 683L2257 681L2256 681M2705 743L2717 740L2728 732L2738 722L2755 700L2769 676L2775 664L2777 650L2775 642M2777 835L2727 845L2653 861L2616 872L2592 883L2570 897L2560 905L2550 915L2542 926L2534 938L2528 951L2523 964L2518 978L2512 1007L2509 1036L2508 1066L2512 1095L2515 1110L2520 1123L2527 1136L2535 1147L2545 1156L2556 1164L2568 1169L2592 1176L2655 1187M2777 851L2741 863L2705 878L2659 901L2636 914L2625 922L2595 949L2585 958L2576 969L2569 981L2563 994L2558 1007L2555 1022L2553 1036L2552 1051L2553 1066L2555 1081L2559 1095L2564 1108L2572 1120L2581 1130L2591 1139L2602 1146L2638 1163L2674 1177M2460 1315L2472 1319L2484 1321L2497 1322L2510 1322L2535 1318L2547 1315L2571 1306M2243 1260L2229 1285L2221 1297L2212 1307L2202 1315L2190 1320L2178 1323L2165 1324M2002 495L2010 484L2019 474L2029 465L2051 449L2074 436L2085 431L2122 419L2134 414L2144 406L2153 396L2163 387L2175 382L2187 383M2434 483L2397 474L2373 465L2364 459L2359 454L2357 446L2361 437L2391 409L2400 399L2406 387L2408 375L2405 364M2520 455L2507 453L2495 449L2485 444L2478 437L2475 427L2476 399L2470 387L2460 379L2438 368L2427 361M2609 429L2619 419L2640 404L2663 392L2699 377M2625 455L2622 450L2625 442L2634 432L2645 424L2667 410L2725 381M2175 939L2200 937L2212 936L2225 937L2238 939L2250 943L2262 949L2273 956L2283 964L2292 974L2301 985L2309 997L2321 1023L2337 1063L2354 1103L2384 1200L2395 1228L2401 1240L2418 1263L2427 1273L2437 1282L2448 1289L2460 1295L2472 1300L2484 1302L2497 1304L2509 1303L2522 1302L2547 1296L2595 1279M2229 1268L2221 1280L2212 1291L2202 1299L2190 1306L2178 1311L2166 1313L2153 1313L2141 1312M2176 1299L2164 1302L2151 1303L2138 1302L2113 1297L2077 1285M1987 496L1994 483L2002 472L2011 461L2021 452L2042 435L2064 421L2076 416L2124 397M2033 477L2056 463L2079 452L2104 445L2141 437L2150 434L2158 427L2163 402L2168 393M2639 454L2646 443L2657 434L2679 420L2725 396M2655 731L2667 728L2692 730L2704 729L2716 724L2726 715L2735 704L2742 692L2749 680L2754 667L2755 658L2752 650L2744 646L2736 645L2724 646M2765 821L2739 818L2727 815L2716 807L2713 798L2715 789L2721 780L2739 759M2763 876L2741 888L2719 903L2698 920L2678 939L2670 950L2664 963L2655 990L2650 1004L2645 1018L2644 1032L2645 1062L2650 1106L2654 1120L2658 1134L2665 1146L2674 1157M2420 1248L2430 1255L2449 1274L2460 1281L2472 1286L2485 1290L2497 1291L2510 1291L2535 1287L2584 1272L2608 1265M2205 404L2202 417L2196 429L2198 436L2203 440L2223 452L2229 458L2228 464L2224 469L2198 496L2189 507L2182 518L2168 543L2151 583L2142 611L2136 640L2136 654L2138 669L2144 681L2154 690L2165 694L2177 696L2190 697L2215 694L2240 689M2739 588L2705 608L2682 620L2658 630L2646 634L2634 637L2608 639L2583 638L2558 636M2178 931L2203 926L2228 923L2254 924L2266 927L2291 934L2302 939L2314 945L2325 953L2335 962L2344 972L2352 983L2359 996L2365 1009L2369 1023L2380 1065L2389 1093L2410 1147L2422 1173L2431 1184L2442 1191L2454 1196L2465 1202L2473 1211L2477 1224L2476 1238L2472 1255L2474 1262L2485 1269L2497 1273L2509 1274L2522 1273L2535 1271L2559 1265M2383 1216L2393 1244L2399 1257L2406 1269L2415 1279L2425 1289L2435 1297L2446 1304M2238 1091L2248 1119L2251 1133L2253 1147L2254 1162L2253 1177L2251 1192L2247 1206L2243 1220L2230 1245L2223 1257L2214 1269L2205 1278L2195 1287M2726 835L2688 837L2650 837L2638 835L2626 831L2620 825L2621 816L2628 793L2629 764L2631 750L2637 737M2747 896L2737 904L2716 922L2698 942L2689 953L2682 965L2676 978L2666 1006M2484 1234L2488 1245L2497 1254L2510 1257L2522 1258L2547 1255L2597 1246L2623 1242M2377 480L2328 469L2284 456L2279 453L2278 448L2283 445L2289 443M2713 572L2690 583L2653 595L2628 601L2603 604L2578 606L2553 606L2527 605L2464 601L2439 601L2414 604L2363 611L2338 613L2300 614L2275 617L2262 619L2250 623L2238 628L2227 635L2217 644L2210 656L2207 670M2713 588L2690 599L2666 610L2642 618L2617 623L2592 625L2567 625L2541 623L2504 618M2484 1214L2491 1226L2499 1236L2510 1242L2523 1245L2535 1245L2561 1243L2598 1238M2432 1238L2432 1227L2437 1218L2444 1212L2454 1211L2462 1217L2465 1227L2461 1234L2454 1237L2446 1234L2443 1225L2447 1219M2086 464L2112 461L2124 461L2137 462L2149 465L2161 471L2169 481L2171 494L2168 506L2164 520M2128 451L2153 452L2166 453L2178 457L2189 464L2193 472L2192 482L2189 491L2176 516M2737 496L2713 507L2688 513L2651 519L2562 530L2537 532L2512 533L2487 531L2424 524L2398 523L2373 524L2335 527L2310 531L2285 536L2261 544L2237 555L2215 569L2205 578L2195 588L2187 599L2180 611L2174 624L2169 638L2167 652L2168 667L2174 679L2183 687M2713 552L2701 557L2676 564L2651 570L2626 573L2601 575L2550 576L2462 574L2436 575L2411 578L2361 585L2298 591L2273 595L2260 598L2248 602L2236 608L2225 614L2215 623L2205 633L2198 645L2194 659L2194 673L2199 681L2207 686M2662 716L2673 710L2685 704L2694 694L2701 683L2703 674L2701 665L2694 660L2687 659L2661 657M2701 866L2664 879L2629 895L2606 907L2584 922L2574 931L2564 940L2556 952L2548 964L2542 977L2537 990L2534 1004L2529 1034L2528 1063L2529 1078L2531 1092L2535 1106L2541 1120L2549 1132L2558 1142L2569 1149L2580 1156L2592 1160L2617 1168M2215 919L2228 917L2253 915L2278 916L2303 918L2328 923L2353 929L2365 934L2376 941L2387 949L2395 960L2402 972L2407 986L2411 1000L2427 1072L2440 1114L2451 1141L2457 1153L2464 1166L2482 1187L2501 1206L2511 1214L2523 1219L2536 1223L2561 1225L2637 1222M2024 517L2035 510L2048 507L2060 506L2072 510L2083 517L2091 529L2095 543L2097 557L2095 587L2087 661L2087 675L2090 689L2096 695L2103 699L2114 702L2127 704L2152 704M2025 503L2035 495L2047 489L2059 484L2071 481L2084 480L2097 481L2109 483L2120 489L2130 499L2135 512L2136 527L2135 542L2133 556L2118 628L2116 643L2116 658L2118 672L2124 685L2134 693M2328 478L2290 473L2265 474L2252 476L2240 479L2228 484L2217 491M2649 477L2624 479L2562 493L2537 497L2524 498L2511 498L2486 496L2436 488M2688 541L2663 546L2638 549L2562 554L2511 554L2448 551L2410 552L2322 562L2284 568L2260 575L2247 580L2236 586L2225 592L2214 600L2204 610L2196 621L2188 633L2183 646L2181 661M2312 905L2375 901L2401 901L2413 902L2426 905L2437 910L2447 919L2453 932L2456 946L2462 1050L2466 1079L2469 1094L2477 1122L2482 1135L2489 1148L2496 1160L2505 1171L2514 1180L2525 1188L2537 1194L2549 1199L2574 1203L2650 1207M2277 942L2288 949L2299 957L2309 966L2318 976L2326 988L2333 1000L2339 1013L2361 1082L2392 1164L2403 1191L2409 1201L2420 1208L2432 1207M2061 495L2074 495L2086 497L2097 504L2106 514L2111 527L2113 542L2113 557L2112 572L2103 630L2101 660L2103 674L2108 687M2121 472L2133 477L2143 483L2150 495L2152 509L2151 524L2148 538L2133 595M2265 488L2240 495L2228 500L2217 506L2206 514L2196 523L2187 534L2179 545L2172 557L2159 583M2417 499L2380 495L2329 492L2304 492L2278 495M2674 487L2636 493L2562 508L2536 511L2524 512L2498 511L2448 504M2230 904L2292 889L2329 879L2365 867L2425 842L2449 833L2474 827L2537 818L2549 815L2561 811L2573 806L2584 798L2594 789L2603 779L2610 767L2622 741L2630 729L2639 719L2660 702L2669 693L2675 681M2664 1043L2666 1102L2667 1117L2670 1131L2675 1145L2683 1156M2353 884L2440 860L2465 855L2490 853L2502 854L2514 857L2522 861L2527 868L2526 882L2512 923L2504 951L2498 980L2494 1009L2492 1039L2493 1069L2497 1098L2500 1112L2505 1126L2511 1139L2519 1151L2528 1161L2538 1170L2549 1176L2561 1181L2574 1185L2599 1189L2624 1191M2312 910L2363 913L2388 917L2400 921L2411 927L2421 937L2428 949L2432 963L2438 992L2448 1065L2454 1094L2463 1122L2475 1148L2482 1160L2490 1172L2499 1182L2509 1191M2335 936L2346 942L2357 950L2367 959L2376 969L2383 982L2389 995L2393 1009L2411 1080L2421 1107L2431 1135L2443 1161L2451 1172L2470 1191M2037 520L2049 521L2061 526L2070 536L2075 549L2078 564L2079 578L2077 608M2277 504L2253 510L2241 515L2229 521L2218 528L2207 536L2197 545L2188 555L2173 579M2430 509L2392 506L2354 505L2316 507L2291 510M2637 927L2632 933L2630 940L2643 958L2646 970L2642 983L2633 993L2624 999L2614 1008L2609 1021L2607 1035L2607 1050L2608 1065L2615 1094L2620 1107L2626 1120L2633 1132L2642 1143L2652 1152L2662 1160M2417 889L2429 889L2442 890L2454 893L2464 900L2472 911L2475 925L2475 940L2473 1000L2473 1044L2475 1074L2478 1088L2485 1117L2490 1130L2496 1143L2503 1155L2512 1166L2522 1176M2304 1127L2297 1124L2294 1116L2297 1108L2306 1103L2315 1105L2321 1112L2323 1122L2319 1132L2308 1139L2289 1143L2283 1147L2279 1161L2277 1190M2226 1039L2239 1064L2261 1117L2265 1131L2266 1176M2265 521L2241 531L2229 537L2218 544L2208 553L2198 562L2189 572L2181 584L2168 609L2163 623M2620 535L2557 540L2519 541L2494 540L2443 535L2405 535L2355 538L2305 545M2637 588L2612 591L2574 593L2536 593L2460 590L2434 591L2409 595M2307 870L2355 850L2414 822L2438 812L2462 804L2524 790L2548 780L2560 774L2570 766L2581 758L2590 748L2632 694L2637 681L2635 672L2630 666L2622 662L2610 657M2649 849L2624 853L2612 856L2588 865L2576 872L2565 879L2555 888L2546 898L2537 909L2530 920L2523 933M2637 1005L2631 1019L2629 1033L2629 1048L2633 1077L2639 1106L2643 1120L2649 1133M2625 987L2613 987L2605 985L2598 985L2590 991L2583 1004L2579 1018L2576 1032L2576 1047L2577 1062L2579 1076L2583 1090L2588 1104L2595 1116L2604 1127L2613 1136L2624 1145M2112 773L2129 751L2148 732L2159 724L2170 717L2193 706M2172 913L2231 885L2361 828L2420 800L2444 791L2506 776L2530 767L2542 761L2563 746L2583 727L2600 705L2607 694L2611 681M2471 837L2496 834L2547 830L2559 828L2571 824L2583 818L2593 810L2603 800L2611 789M2125 820L2141 797L2185 743L2204 724L2225 708M2496 810L2534 802L2558 792L2569 786L2580 778L2590 769L2598 758L2606 746M2598 928L2578 946L2569 957L2562 969L2555 981L2550 995L2546 1009L2543 1023M2598 1005L2593 1019L2591 1034L2591 1048L2592 1063L2595 1078L2599 1092L2604 1105L2611 1118L2619 1129M2253 957L2264 965L2274 974L2283 985L2291 996L2304 1021L2322 1061L2342 1098M2138 882L2176 843L2226 797L2246 779L2267 763L2279 757L2302 746L2364 727L2424 705L2447 693L2458 685L2461 676L2458 667L2452 661L2441 656L2429 652L2416 650L2391 649L2290 649L2277 651L2265 653L2252 657L2241 664M2138 866L2165 835L2221 776L2241 756L2251 747L2273 732L2330 702L2341 694L2345 687L2343 681L2338 677L2330 674L2317 670L2292 667L2280 668L2267 669M2138 835L2217 739L2237 721L2281 691L2285 684L2283 680L2279 678L2271 676M2157 911L2236 864L2271 846L2294 834L2366 806L2426 780L2450 773L2500 761L2524 752L2536 746L2547 739L2557 731L2567 722L2576 711L2584 700L2590 689L2592 677L2586 665L2575 657M2150 897L2203 856L2225 841L2258 819L2281 806L2305 797L2354 783L2415 762L2439 755L2477 747L2501 740L2525 730L2536 723L2547 715L2556 705L2565 693L2569 680M2448 876L2461 876L2473 878L2483 883L2490 891L2494 905L2493 920L2485 979L2483 1008L2482 1038L2483 1067M2341 953L2351 962L2360 972L2368 984L2374 997L2383 1025L2398 1081L2407 1109M2351 1011L2377 1095L2403 1163L2409 1176L2416 1188M2184 953L2196 954L2209 957L2221 961L2233 966L2244 974L2253 983L2263 993L2278 1017L2297 1055L2304 1067M2137 852L2154 830L2227 747L2247 729L2257 721L2291 700L2301 691L2304 684L2300 679L2295 677L2286 674M2302 761L2364 744L2413 729L2475 713L2487 709L2499 704L2510 696L2518 688L2523 680L2523 669L2516 658L2505 650L2493 644L2469 636L2444 632L2419 631L2381 634M2602 896L2580 910L2570 919L2560 928L2551 939L2544 951L2537 963L2527 991L2524 1005L2520 1034M2376 928L2388 934L2398 942L2407 953L2413 966L2418 980L2422 994L2432 1052M2428 710L2453 701L2464 696L2474 689L2480 683L2483 673L2479 664L2469 655L2458 650M2451 731L2476 726L2501 718L2512 713L2524 706L2534 697L2540 687L2544 677L2542 667L2533 657L2522 650M2189 851L2231 817L2263 794L2274 787L2298 777L2335 767M2304 729L2352 709L2363 703L2374 696L2380 691L2383 684L2379 677L2367 672L2355 669L2330 665M2362 718L2386 708L2409 697L2418 691L2422 685L2424 678L2418 670L2406 665L2394 662L2381 661M2346 768L2420 745L2457 737M2190 880L2234 851L2268 831L2291 820L2303 815L2340 803" fill="none" stroke="#000" stroke-width="3.2" stroke-linecap="round" stroke-linejoin="round"/>
<path d="M1773 163L1769 192L1748 178ZM1787 189L1783 218L1762 204ZM1749 381L1759 408L1734 405ZM1809 246L1806 275L1785 262ZM1862 171L1865 200L1842 191ZM1824 280L1817 309L1798 293ZM1875 232L1872 260L1851 247ZM1925 162L1924 191L1902 179ZM1908 217L1905 246L1884 233ZM1945 196L1939 224L1919 209ZM1978 184L1970 211L1952 194ZM1888 298L1876 324L1860 305ZM1937 282L1925 309L1909 290ZM1976 276L1965 303L1948 284ZM2117 154L2113 182L2093 169ZM1990 304L1980 331L1963 312ZM2028 292L2017 318L2000 300ZM2152 225L2139 250L2124 230ZM2046 309L2033 335L2018 315ZM2208 221L2202 250L2182 234ZM2096 309L2078 331L2067 308ZM2464 192L2490 180L2491 204ZM2437 149L2462 135L2464 159ZM2432 129L2456 114L2459 139ZM2386 116L2411 101L2413 126ZM2463 166L2489 152L2490 177ZM2546 209L2570 194L2573 218ZM2058 1350L2087 1351L2076 1373ZM2045 1367L2074 1365L2065 1388ZM2019 1387L2047 1380L2042 1404ZM2045 1418L2074 1414L2066 1437ZM1982 1440L2009 1431L2006 1456ZM2000 1462L2028 1455L2023 1479ZM2031 1488L2060 1486L2051 1510ZM2070 1534L2098 1541L2081 1560ZM1914 1474L1943 1472L1934 1495ZM2027 1545L2054 1553L2038 1572ZM1899 1487L1928 1486L1918 1509ZM1976 1544L2004 1552L1988 1570ZM1868 1504L1897 1503L1887 1526ZM1849 1522L1878 1518L1870 1542ZM1843 1546L1871 1538L1866 1563ZM1813 1566L1840 1556L1838 1581ZM1799 1573L1826 1563L1824 1588ZM2037 1325L2065 1322L2057 1346ZM1937 1268L1962 1255L1963 1280ZM2083 1267L2112 1263L2104 1287ZM2032 1225L2061 1223L2051 1247ZM1982 1190L2010 1185L2003 1209ZM1957 1170L1984 1161L1981 1186ZM1971 1149L1999 1143L1993 1167ZM1809 1159L1831 1140L1837 1164ZM1947 1124L1974 1113L1972 1138ZM1922 1113L1948 1100L1948 1125ZM1923 1093L1949 1081L1949 1106ZM1873 1080L1899 1069L1898 1094ZM1835 1068L1861 1055L1861 1080ZM1898 1053L1926 1045L1921 1070ZM1898 1034L1926 1029L1919 1053ZM1798 1001L1824 990L1823 1015ZM1798 987L1825 977L1822 1002ZM1906 995L1935 994L1926 1017ZM1882 969L1911 969L1901 991ZM1871 946L1900 945L1890 968ZM1907 944L1936 943L1925 966ZM1883 916L1912 914L1903 937ZM1860 891L1888 888L1880 912ZM1798 863L1824 852L1823 877ZM1897 875L1925 873L1916 896ZM1897 858L1926 855L1918 879ZM1886 835L1914 829L1908 854ZM1886 813L1914 804L1910 829ZM1887 789L1913 779L1912 803ZM1886 767L1913 755L1912 780ZM1886 748L1912 736L1912 761ZM1874 733L1899 720L1900 745ZM1798 727L1823 712L1825 737ZM1874 708L1900 695L1900 720ZM1861 694L1887 681L1887 706ZM1861 677L1887 664L1887 689ZM1861 655L1886 642L1887 667ZM1835 634L1860 619L1862 644ZM1847 613L1871 598L1874 623ZM1822 600L1846 584L1849 608ZM1797 590L1820 573L1825 598ZM1848 562L1874 549L1875 574ZM1836 542L1862 530L1861 555ZM1798 529L1825 518L1823 543ZM1810 509L1838 501L1833 526ZM1769 251L1767 279L1745 267ZM2587 156L2606 134L2616 157ZM1783 1483L1812 1482L1802 1505ZM1781 1443L1809 1447L1796 1468ZM1782 176L1778 205L1757 191ZM2080 206L2067 232L2052 212ZM2476 229L2502 217L2502 242ZM2537 250L2563 237L2564 262ZM2670 192L2677 164L2696 180ZM1788 1517L1816 1511L1810 1535ZM2306 226L2334 234L2317 253ZM1793 425L1809 449L1784 452ZM2242 259L2233 286L2215 269ZM2476 313L2456 291L2480 284ZM1818 354L1819 383L1796 373ZM2612 285L2632 264L2640 288ZM2092 338L2072 359L2063 336ZM2193 1413L2221 1417L2208 1438ZM2021 1429L2048 1421L2044 1446ZM2368 277L2396 272L2390 296ZM2607 308L2629 288L2636 312ZM1872 387L1867 415L1847 401ZM2230 213L2228 242L2206 229ZM2263 319L2242 338L2234 314ZM2412 272L2440 267L2433 291ZM2489 268L2514 255L2515 280ZM1964 1281L1991 1271L1988 1296ZM1949 1030L1976 1023L1972 1047ZM2124 356L2102 375L2096 351ZM2575 336L2599 320L2602 345ZM2337 1186L2323 1161L2348 1159ZM2301 1314L2297 1286L2321 1294ZM2292 1278L2283 1250L2308 1254ZM2315 368L2294 388L2287 364ZM2465 465L2493 459L2486 483ZM2393 1347L2365 1341L2380 1321ZM1951 1247L1977 1234L1978 1259ZM1959 925L1988 928L1974 950ZM1919 417L1916 445L1895 432ZM2273 331L2251 350L2245 325ZM2187 369L2159 375L2165 351ZM2371 1291L2349 1273L2372 1262ZM2272 1310L2264 1282L2288 1286ZM2756 771L2754 800L2732 788ZM2773 765L2771 794L2750 782ZM2407 1313L2380 1304L2397 1286ZM2084 1329L2113 1331L2101 1353ZM2311 390L2287 406L2284 381ZM2301 435L2278 453L2273 428ZM2695 768L2670 754L2690 739ZM2760 749L2753 777L2734 761ZM2453 1323L2424 1325L2433 1302ZM2327 1273L2315 1248L2340 1247ZM2242 1291L2241 1262L2264 1272ZM2452 475L2481 469L2475 493ZM2531 420L2546 445L2521 447ZM2570 385L2585 410L2560 412ZM2607 381L2594 407L2579 387ZM2633 388L2616 411L2604 389ZM2459 621L2486 611L2484 636ZM2751 706L2746 735L2725 720ZM2520 971L2516 943L2540 950ZM2566 987L2565 958L2588 969ZM2516 1322L2492 1337L2489 1312ZM2217 1302L2225 1274L2243 1291ZM2091 429L2071 450L2063 426ZM2359 442L2359 471L2336 460ZM2476 406L2488 432L2463 432ZM2646 401L2629 425L2617 403ZM2661 413L2645 437L2633 416ZM2369 1152L2350 1130L2374 1123ZM2196 1303L2212 1279L2225 1300ZM2120 1299L2148 1293L2142 1317ZM2047 432L2033 456L2019 436ZM2110 443L2087 461L2082 437ZM2673 424L2657 448L2644 426ZM2730 709L2724 737L2704 722ZM2715 803L2735 823L2711 832ZM2652 997L2650 968L2674 978ZM2503 1291L2477 1304L2477 1279ZM2154 576L2151 547L2175 556ZM2652 632L2673 612L2681 636ZM2387 1086L2367 1066L2390 1058ZM2403 1263L2378 1247L2400 1234ZM2249 1199L2243 1171L2268 1177ZM2632 833L2660 828L2653 852ZM2694 948L2700 919L2719 935ZM2554 1254L2530 1271L2526 1247ZM2322 467L2350 462L2343 486ZM2445 601L2471 587L2472 612ZM2611 624L2635 608L2638 633ZM2529 1245L2503 1257L2504 1232ZM2464 1222L2445 1200L2469 1193ZM2155 468L2126 468L2137 445ZM2183 460L2155 456L2169 435ZM2405 523L2431 511L2430 536ZM2417 577L2442 561L2445 586ZM2702 679L2707 707L2683 701ZM2536 997L2530 969L2554 976ZM2425 1065L2407 1042L2431 1037ZM2093 609L2084 582L2108 585ZM2135 534L2125 507L2150 509ZM2271 474L2296 460L2298 484ZM2543 496L2567 480L2570 505ZM2416 551L2441 537L2443 562ZM2463 1057L2447 1033L2472 1030ZM2359 1075L2339 1055L2363 1047ZM2111 579L2102 551L2127 555ZM2149 531L2142 503L2167 508ZM2201 519L2212 492L2229 510ZM2348 493L2375 481L2373 506ZM2568 507L2591 489L2596 514ZM2480 826L2457 843L2452 818ZM2666 1095L2652 1069L2677 1068ZM2499 973L2491 945L2516 949ZM2440 1014L2425 989L2450 987ZM2405 1059L2387 1036L2411 1030ZM2077 556L2060 533L2084 528ZM2213 532L2226 506L2241 526ZM2361 505L2387 493L2387 518ZM2607 1043L2594 1017L2619 1017ZM2473 1022L2460 996L2485 996ZM2313 1136L2328 1111L2342 1131ZM2259 1111L2237 1092L2260 1082ZM2203 557L2213 530L2230 548ZM2462 537L2489 527L2487 552ZM2529 593L2556 581L2555 606ZM2506 795L2483 813L2478 789ZM2571 875L2585 850L2599 871ZM2632 1070L2616 1046L2640 1042ZM2576 1054L2562 1029L2587 1028ZM2143 737L2133 763L2116 745ZM2402 808L2384 831L2373 809ZM2553 829L2530 846L2525 821ZM2172 759L2165 787L2146 772ZM2563 789L2547 813L2535 791ZM2558 975L2559 946L2581 958ZM2594 1070L2577 1047L2601 1043ZM2307 1028L2285 1009L2308 999ZM2394 716L2374 736L2365 713ZM2267 736L2252 761L2238 740ZM2212 744L2204 772L2186 755ZM2396 793L2378 815L2367 792ZM2360 781L2339 801L2332 777ZM2488 956L2479 929L2504 932ZM2385 1032L2366 1010L2390 1004ZM2380 1102L2359 1082L2382 1073ZM2258 988L2232 976L2250 960ZM2222 752L2213 780L2195 763ZM2493 706L2474 728L2464 706ZM2540 957L2541 928L2563 940ZM2420 987L2401 964L2426 958ZM2477 686L2469 714L2451 697ZM2518 709L2502 733L2489 712ZM2257 797L2242 822L2229 801ZM2369 700L2354 724L2340 703ZM2414 694L2400 719L2385 699ZM2401 751L2380 771L2373 747ZM2262 834L2246 858L2233 836Z" fill="#000" stroke="#000" stroke-width="3.2" stroke-linejoin="round"/>
</g>
<rect x="1727.5" y="89.5" width="1269" height="1492" fill="none" stroke="#000" stroke-width="3"/>
<g font-family='"Liberation Serif", serif' fill="#000">
<text x="840" y="66.7" font-size="50" text-anchor="middle">(a) June Surface</text>
<text x="2362" y="66.7" font-size="50" text-anchor="middle">(b) June Bottom</text>
<text x="355" y="1632" font-size="41.67" text-anchor="middle">115.65°E</text>
<text x="541.4" y="1632" font-size="41.67" text-anchor="middle">115.675°E</text>
<text x="727.8" y="1632" font-size="41.67" text-anchor="middle">115.7°E</text>
<text x="914.2" y="1632" font-size="41.67" text-anchor="middle">115.725°E</text>
<text x="1100.6" y="1632" font-size="41.67" text-anchor="middle">115.75°E</text>
<text x="1287" y="1632" font-size="41.67" text-anchor="middle">115.775°E</text>
<text x="1877" y="1632" font-size="41.67" text-anchor="middle">115.65°E</text>
<text x="2063.4" y="1632" font-size="41.67" text-anchor="middle">115.675°E</text>
<text x="2249.8" y="1632" font-size="41.67" text-anchor="middle">115.7°E</text>
<text x="2436.2" y="1632" font-size="41.67" text-anchor="middle">115.725°E</text>
<text x="2622.6" y="1632" font-size="41.67" text-anchor="middle">115.75°E</text>
<text x="2809" y="1632" font-size="41.67" text-anchor="middle">115.775°E</text>
<text x="184.6" y="287.2" font-size="41.67" text-anchor="end">32.125°S</text>
<text x="3016.7" y="287.2" font-size="41.67">32.125°S</text>
<text x="184.6" y="473.7" font-size="41.67" text-anchor="end">32.15°S</text>
<text x="3016.7" y="473.7" font-size="41.67">32.15°S</text>
<text x="184.6" y="660.2" font-size="41.67" text-anchor="end">32.175°S</text>
<text x="3016.7" y="660.2" font-size="41.67">32.175°S</text>
<text x="184.6" y="846.7" font-size="41.67" text-anchor="end">32.2°S</text>
<text x="3016.7" y="846.7" font-size="41.67">32.2°S</text>
<text x="184.6" y="1033.2" font-size="41.67" text-anchor="end">32.225°S</text>
<text x="3016.7" y="1033.2" font-size="41.67">32.225°S</text>
<text x="184.6" y="1219.7" font-size="41.67" text-anchor="end">32.25°S</text>
<text x="3016.7" y="1219.7" font-size="41.67">32.25°S</text>
<text x="184.6" y="1406.2" font-size="41.67" text-anchor="end">32.275°S</text>
<text x="3016.7" y="1406.2" font-size="41.67">32.275°S</text>
<rect x="561.2" y="1789.6" width="2079.9" height="103.4" fill="url(#cb)"/>
<rect x="561.2" y="1789.6" width="2079.9" height="103.4" fill="none" stroke="#000" stroke-width="3.2"/>
<text x="561.2" y="1952.6" font-size="41.67" text-anchor="middle">15</text>
<text x="792.3" y="1952.6" font-size="41.67" text-anchor="middle">16</text>
<text x="1023.4" y="1952.6" font-size="41.67" text-anchor="middle">17</text>
<text x="1254.5" y="1952.6" font-size="41.67" text-anchor="middle">18</text>
<text x="1485.6" y="1952.6" font-size="41.67" text-anchor="middle">19</text>
<text x="1716.7" y="1952.6" font-size="41.67" text-anchor="middle">20</text>
<text x="1947.8" y="1952.6" font-size="41.67" text-anchor="middle">21</text>
<text x="2178.9" y="1952.6" font-size="41.67" text-anchor="middle">22</text>
<text x="2410" y="1952.6" font-size="41.67" text-anchor="middle">23</text>
<text x="2641.1" y="1952.6" font-size="41.67" text-anchor="middle">24</text>
<path d="M561.2 1893V1908.5M792.3 1893V1908.5M1023.4 1893V1908.5M1254.5 1893V1908.5M1485.6 1893V1908.5M1716.7 1893V1908.5M1947.8 1893V1908.5M2178.9 1893V1908.5M2410 1893V1908.5M2641.1 1893V1908.5" stroke="#000" stroke-width="3.2" fill="none"/>
<text x="1600.8" y="2013.3" font-size="50" text-anchor="middle">Temperature (°C)</text>
</g>
</svg></body></html>
